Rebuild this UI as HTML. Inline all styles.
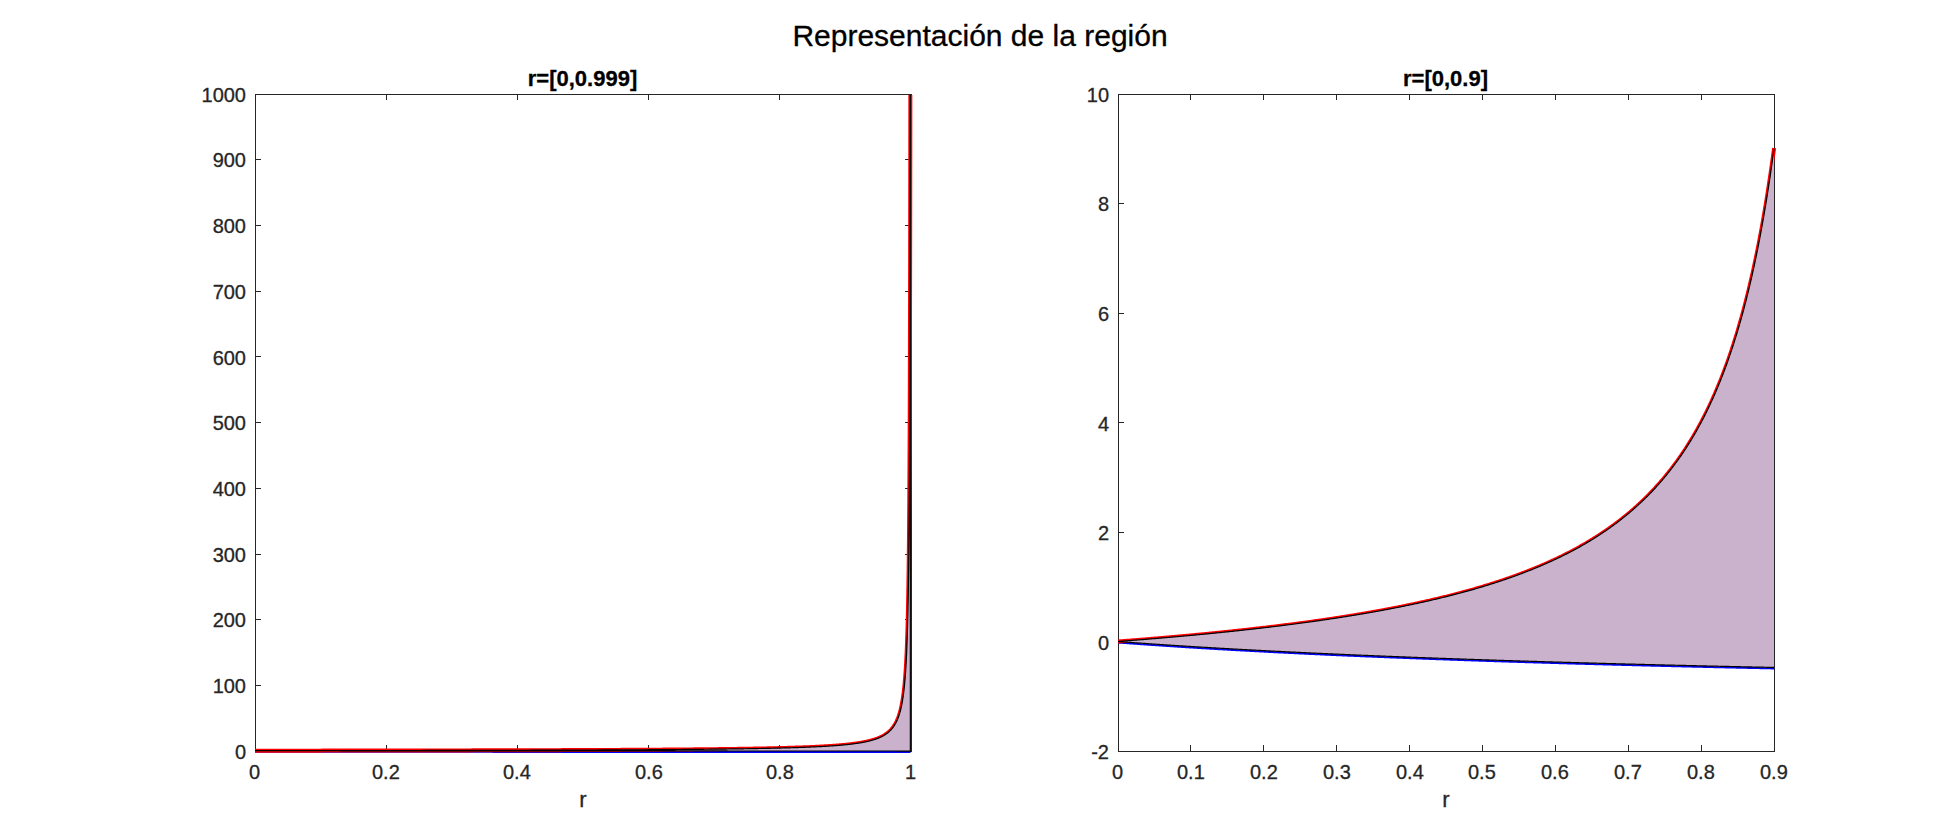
<!DOCTYPE html>
<html lang="es"><head><meta charset="utf-8"><title>Representación de la región</title>
<style>
html,body{margin:0;padding:0;background:#fff;}
body{width:1960px;height:840px;overflow:hidden;}
svg{display:block;font-family:"Liberation Sans", sans-serif;}
</style></head><body>
<svg width="1960" height="840" viewBox="0 0 1960 840">
<rect width="1960" height="840" fill="#fff"/>
<text x="980" y="46" font-size="30" fill="#000" stroke="#000" stroke-width="0.3" text-anchor="middle">Representación de la región</text>
<g stroke="#262626" stroke-width="1" fill="none">
<rect x="255.5" y="94.5" width="656.0" height="657.0"/>
<path d="M386.5 751.5v-6.5M386.5 94.5v5.5M517.5 751.5v-6.5M517.5 94.5v5.5M648.5 751.5v-6.5M648.5 94.5v5.5M779.5 751.5v-6.5M779.5 94.5v5.5M255.5 685.5h5.5M911.5 685.5h-6.5M255.5 619.5h5.5M911.5 619.5h-6.5M255.5 554.5h5.5M911.5 554.5h-6.5M255.5 488.5h5.5M911.5 488.5h-6.5M255.5 422.5h5.5M911.5 422.5h-6.5M255.5 356.5h5.5M911.5 356.5h-6.5M255.5 291.5h5.5M911.5 291.5h-6.5M255.5 225.5h5.5M911.5 225.5h-6.5M255.5 159.5h5.5M911.5 159.5h-6.5"/>
</g>
<clipPath id="clip1"><rect x="255.0" y="95.0" width="696" height="697"/></clipPath>
<g fill="none" stroke-linejoin="round" clip-path="url(#clip1)">
<polyline points="255,751.7 257.81,751.7 260.61,751.71 263.4,751.71 266.19,751.71 268.96,751.71 271.73,751.72 274.49,751.72 277.24,751.72 279.99,751.72 282.72,751.73 285.45,751.73 288.17,751.73 290.89,751.73 293.59,751.74 296.29,751.74 298.98,751.74 301.66,751.74 304.33,751.75 307,751.75 309.66,751.75 312.31,751.75 314.95,751.76 317.58,751.76 320.21,751.76 322.83,751.76 325.44,751.76 328.04,751.77 330.64,751.77 333.23,751.77 335.81,751.77 338.38,751.77 340.95,751.78 343.5,751.78 346.05,751.78 348.59,751.78 351.13,751.78 353.66,751.79 356.17,751.79 358.69,751.79 361.19,751.79 363.69,751.79 366.17,751.8 368.66,751.8 371.13,751.8 373.59,751.8 376.05,751.8 378.5,751.8 380.95,751.81 383.38,751.81 385.81,751.81 388.23,751.81 390.65,751.81 393.05,751.81 395.45,751.82 397.84,751.82 400.23,751.82 402.6,751.82 404.97,751.82 407.33,751.82 409.69,751.83 412.03,751.83 414.37,751.83 416.7,751.83 419.03,751.83 421.35,751.83 423.66,751.83 425.96,751.84 428.26,751.84 430.54,751.84 432.83,751.84 435.1,751.84 437.37,751.84 439.63,751.84 441.88,751.85 444.12,751.85 446.36,751.85 448.59,751.85 450.81,751.85 453.03,751.85 455.24,751.85 457.44,751.85 459.64,751.86 461.83,751.86 464.01,751.86 466.18,751.86 468.35,751.86 470.51,751.86 472.66,751.86 474.8,751.86 476.94,751.87 479.07,751.87 481.2,751.87 483.32,751.87 485.43,751.87 487.53,751.87 489.63,751.87 491.72,751.87 493.8,751.88 495.87,751.88 497.94,751.88 500.01,751.88 502.06,751.88 504.11,751.88 506.15,751.88 508.19,751.88 510.21,751.88 512.23,751.89 514.25,751.89 516.25,751.89 518.26,751.89 520.25,751.89 522.24,751.89 524.22,751.89 526.19,751.89 528.16,751.89 530.12,751.89 532.07,751.9 534.02,751.9 535.96,751.9 537.89,751.9 539.82,751.9 541.74,751.9 543.65,751.9 545.55,751.9 547.45,751.9 549.35,751.9 551.23,751.9 553.12,751.91 554.99,751.91 556.86,751.91 558.72,751.91 560.57,751.91 562.42,751.91 564.26,751.91 566.09,751.91 567.92,751.91 569.74,751.91 571.56,751.91 573.37,751.91 575.17,751.92 576.96,751.92 578.75,751.92 580.53,751.92 582.31,751.92 584.08,751.92 585.84,751.92 587.6,751.92 589.35,751.92 591.1,751.92 592.84,751.92 594.57,751.92 596.29,751.92 598.01,751.93 599.73,751.93 601.43,751.93 603.13,751.93 604.83,751.93 606.51,751.93 608.2,751.93 609.87,751.93 611.54,751.93 613.2,751.93 614.86,751.93 616.51,751.93 618.16,751.93 619.79,751.93 621.43,751.94 623.05,751.94 624.67,751.94 626.29,751.94 627.89,751.94 629.5,751.94 631.09,751.94 632.68,751.94 634.27,751.94 635.84,751.94 637.41,751.94 638.98,751.94 640.54,751.94 642.09,751.94 643.64,751.94 645.18,751.95 646.72,751.95 648.25,751.95 649.77,751.95 651.29,751.95 652.8,751.95 654.31,751.95 655.81,751.95 657.3,751.95 658.79,751.95 660.27,751.95 661.75,751.95 663.22,751.95 664.69,751.95 666.15,751.95 667.6,751.95 669.05,751.95 670.49,751.95 671.93,751.96 673.36,751.96 674.78,751.96 676.2,751.96 677.61,751.96 679.02,751.96 680.42,751.96 681.82,751.96 683.21,751.96 684.59,751.96 685.97,751.96 687.35,751.96 688.72,751.96 690.08,751.96 691.43,751.96 692.79,751.96 694.13,751.96 695.47,751.96 696.81,751.96 698.14,751.96 699.46,751.97 700.78,751.97 702.09,751.97 703.4,751.97 704.7,751.97 705.99,751.97 707.29,751.97 708.57,751.97 709.85,751.97 711.12,751.97 712.39,751.97 713.66,751.97 714.91,751.97 716.17,751.97 717.42,751.97 718.66,751.97 719.89,751.97 721.13,751.97 722.35,751.97 723.57,751.97 724.79,751.97 726,751.97 727.2,751.97 728.4,751.98 729.6,751.98 730.79,751.98 731.97,751.98 733.15,751.98 734.32,751.98 735.49,751.98 736.65,751.98 737.81,751.98 738.96,751.98 740.11,751.98 741.25,751.98 742.39,751.98 743.52,751.98 744.65,751.98 745.77,751.98 746.89,751.98 748,751.98 749.11,751.98 750.21,751.98 751.31,751.98 752.4,751.98 753.49,751.98 754.57,751.98 755.64,751.98 756.72,751.98 757.78,751.99 758.84,751.99 759.9,751.99 760.95,751.99 762,751.99 763.04,751.99 764.08,751.99 765.11,751.99 766.14,751.99 767.16,751.99 768.18,751.99 769.19,751.99 770.2,751.99 771.21,751.99 772.2,751.99 773.2,751.99 774.19,751.99 775.17,751.99 776.15,751.99 777.13,751.99 778.1,751.99 779.06,751.99 780.02,751.99 780.98,751.99 781.93,751.99 782.88,751.99 783.82,751.99 784.75,751.99 785.69,751.99 786.61,751.99 787.54,751.99 788.46,751.99 789.37,751.99 790.28,752 791.19,752 792.09,752 792.98,752 793.87,752 794.76,752 795.64,752 796.52,752 797.39,752 798.26,752 799.13,752 799.99,752 800.84,752 801.69,752 802.54,752 803.38,752 804.22,752 805.05,752 805.88,752 806.71,752 807.53,752 808.34,752 809.16,752 809.96,752 810.77,752 811.56,752 812.36,752 813.15,752 813.93,752 814.72,752 815.49,752 816.27,752 817.04,752 817.8,752 818.56,752 819.32,752 820.07,752 820.82,752 821.56,752 822.3,752 823.04,752 823.77,752.01 824.5,752.01 825.22,752.01 825.94,752.01 826.66,752.01 827.37,752.01 828.07,752.01 828.78,752.01 829.48,752.01 830.17,752.01 830.86,752.01 831.55,752.01 832.23,752.01 832.91,752.01 833.59,752.01 834.26,752.01 834.93,752.01 835.59,752.01 836.25,752.01 836.9,752.01 837.56,752.01 838.2,752.01 838.85,752.01 839.49,752.01 840.13,752.01 840.76,752.01 841.39,752.01 842.01,752.01 842.63,752.01 843.25,752.01 843.86,752.01 844.47,752.01 845.08,752.01 845.68,752.01 846.28,752.01 846.88,752.01 847.47,752.01 848.05,752.01 848.64,752.01 849.22,752.01 849.8,752.01 850.37,752.01 850.94,752.01 851.5,752.01 852.07,752.01 852.62,752.01 853.18,752.01 853.73,752.01 854.28,752.01 854.82,752.01 855.36,752.01 855.9,752.01 856.44,752.01 856.97,752.01 857.49,752.01 858.02,752.01 858.54,752.01 859.05,752.01 859.56,752.02 860.07,752.02 860.58,752.02 861.08,752.02 861.58,752.02 862.08,752.02 862.57,752.02 863.06,752.02 863.55,752.02 864.03,752.02 864.51,752.02 864.98,752.02 865.46,752.02 865.92,752.02 866.39,752.02 866.85,752.02 867.31,752.02 867.77,752.02 868.22,752.02 868.67,752.02 869.12,752.02 869.56,752.02 870,752.02 870.44,752.02 870.87,752.02 871.3,752.02 871.73,752.02 872.15,752.02 872.58,752.02 872.99,752.02 873.41,752.02 873.82,752.02 874.23,752.02 874.63,752.02 875.04,752.02 875.44,752.02 875.83,752.02 876.23,752.02 876.62,752.02 877.01,752.02 877.39,752.02 877.77,752.02 878.15,752.02 878.53,752.02 878.9,752.02 879.27,752.02 879.64,752.02 880,752.02 880.36,752.02 880.72,752.02 881.08,752.02 881.43,752.02 881.78,752.02 882.13,752.02 882.47,752.02 882.81,752.02 883.15,752.02 883.48,752.02 883.82,752.02 884.15,752.02 884.48,752.02 884.8,752.02 885.12,752.02 885.44,752.02 885.76,752.02 886.07,752.02 886.38,752.02 886.69,752.02 887,752.02 887.3,752.02 887.6,752.02 887.9,752.02 888.19,752.02 888.49,752.02 888.78,752.02 889.06,752.02 889.35,752.02 889.63,752.02 889.91,752.02 890.19,752.02 890.46,752.02 890.74,752.02 891.01,752.02 891.27,752.02 891.54,752.02 891.8,752.02 892.06,752.02 892.32,752.02 892.57,752.02 892.83,752.02 893.08,752.02 893.32,752.02 893.57,752.02 893.81,752.02 894.05,752.02 894.29,752.02 894.53,752.02 894.76,752.02 894.99,752.02 895.22,752.02 895.45,752.02 895.67,752.02 895.9,752.02 896.12,752.02 896.33,752.02 896.55,752.02 896.76,752.02 896.97,752.02 897.18,752.03 897.39,752.03 897.59,752.03 897.8,752.03 898,752.03 898.19,752.03 898.39,752.03 898.58,752.03 898.78,752.03 898.97,752.03 899.15,752.03 899.34,752.03 899.52,752.03 899.7,752.03 899.88,752.03 900.06,752.03 900.24,752.03 900.41,752.03 900.58,752.03 900.75,752.03 900.92,752.03 901.08,752.03 901.25,752.03 901.41,752.03 901.57,752.03 901.72,752.03 901.88,752.03 902.03,752.03 902.19,752.03 902.34,752.03 902.48,752.03 902.63,752.03 902.78,752.03 902.92,752.03 903.06,752.03 903.2,752.03 903.34,752.03 903.47,752.03 903.61,752.03 903.74,752.03 903.87,752.03 904,752.03 904.12,752.03 904.25,752.03 904.37,752.03 904.49,752.03 904.61,752.03 904.73,752.03 904.85,752.03 904.96,752.03 905.08,752.03 905.19,752.03 905.3,752.03 905.41,752.03 905.52,752.03 905.62,752.03 905.73,752.03 905.83,752.03 905.93,752.03 906.03,752.03 906.13,752.03 906.22,752.03 906.32,752.03 906.41,752.03 906.51,752.03 906.6,752.03 906.69,752.03 906.77,752.03 906.86,752.03 906.94,752.03 907.03,752.03 907.11,752.03 907.19,752.03 907.27,752.03 907.35,752.03 907.43,752.03 907.5,752.03 907.58,752.03 907.65,752.03 907.72,752.03 907.79,752.03 907.86,752.03 907.93,752.03 907.99,752.03 908.06,752.03 908.12,752.03 908.19,752.03 908.25,752.03 908.31,752.03 908.37,752.03 908.42,752.03 908.48,752.03 908.54,752.03 908.59,752.03 908.65,752.03 908.7,752.03 908.75,752.03 908.8,752.03 908.85,752.03 908.9,752.03 908.94,752.03 908.99,752.03 909.04,752.03 909.08,752.03 909.12,752.03 909.17,752.03 909.21,752.03 909.25,752.03 909.29,752.03 909.32,752.03 909.36,752.03 909.4,752.03 909.43,752.03 909.47,752.03 909.5,752.03 909.53,752.03 909.57,752.03 909.6,752.03 909.63,752.03 909.66,752.03 909.69,752.03 909.71,752.03 909.74,752.03 909.77,752.03 909.79,752.03 909.82,752.03 909.84,752.03 909.86,752.03 909.89,752.03 909.91,752.03 909.93,752.03 909.95,752.03 909.97,752.03 909.99,752.03 910.01,752.03 910.02,752.03 910.04,752.03 910.06,752.03 910.07,752.03 910.09,752.03 910.1,752.03 910.12,752.03 910.13,752.03 910.14,752.03 910.16,752.03 910.17,752.03 910.18,752.03 910.19,752.03 910.2,752.03 910.21,752.03 910.22,752.03 910.23,752.03 910.24,752.03 910.25,752.03 910.25,752.03 910.26,752.03 910.27,752.03 910.27,752.03 910.28,752.03 910.29,752.03 910.29,752.03 910.3,752.03 910.3,752.03 910.31,752.03 910.31,752.03 910.31,752.03 910.32,752.03 910.32,752.03 910.32,752.03 910.33,752.03 910.33,752.03 910.33,752.03 910.33,752.03 910.33,752.03 910.34,752.03 910.34,752.03 910.34,752.03 910.34,752.03 910.34,752.03 910.34,752.03 910.34,752.03 910.34,752.03 910.34,752.03 910.34,752.03 910.34,752.03 910.34,752.03 910.34,752.03 910.34,752.03 910.34,752.03 910.34,752.03 910.34,752.03 910.54,752.03" stroke="#0000ff" stroke-width="2"/>
<polyline points="255,750.7 257.81,750.7 260.61,750.69 263.4,750.69 266.19,750.69 268.96,750.69 271.73,750.68 274.49,750.68 277.24,750.68 279.99,750.67 282.73,750.67 285.45,750.67 288.18,750.67 290.89,750.66 293.59,750.66 296.29,750.66 298.98,750.65 301.66,750.65 304.33,750.65 307,750.64 309.66,750.64 312.31,750.64 314.95,750.63 317.59,750.63 320.21,750.63 322.83,750.62 325.44,750.62 328.05,750.62 330.64,750.61 333.23,750.61 335.81,750.61 338.38,750.6 340.95,750.6 343.5,750.6 346.05,750.59 348.6,750.59 351.13,750.59 353.66,750.58 356.18,750.58 358.69,750.58 361.19,750.57 363.69,750.57 366.17,750.57 368.66,750.56 371.13,750.56 373.6,750.56 376.05,750.55 378.5,750.55 380.95,750.54 383.38,750.54 385.81,750.54 388.23,750.53 390.65,750.53 393.05,750.52 395.45,750.52 397.84,750.52 400.23,750.51 402.6,750.51 404.97,750.51 407.33,750.5 409.69,750.5 412.03,750.49 414.37,750.49 416.71,750.49 419.03,750.48 421.35,750.48 423.66,750.47 425.96,750.47 428.26,750.46 430.54,750.46 432.83,750.46 435.1,750.45 437.37,750.45 439.63,750.44 441.88,750.44 444.12,750.43 446.36,750.43 448.59,750.42 450.82,750.42 453.03,750.42 455.24,750.41 457.44,750.41 459.64,750.4 461.83,750.4 464.01,750.39 466.18,750.39 468.35,750.38 470.51,750.38 472.66,750.37 474.8,750.37 476.94,750.36 479.07,750.36 481.2,750.35 483.32,750.35 485.43,750.34 487.53,750.34 489.63,750.33 491.72,750.33 493.8,750.32 495.88,750.32 497.94,750.31 500.01,750.31 502.06,750.3 504.11,750.3 506.15,750.29 508.19,750.29 510.21,750.28 512.23,750.28 514.25,750.27 516.26,750.27 518.26,750.26 520.25,750.25 522.24,750.25 524.22,750.24 526.19,750.24 528.16,750.23 530.12,750.23 532.07,750.22 534.02,750.21 535.96,750.21 537.89,750.2 539.82,750.2 541.74,750.19 543.65,750.18 545.56,750.18 547.46,750.17 549.35,750.17 551.24,750.16 553.12,750.15 554.99,750.15 556.86,750.14 558.72,750.13 560.57,750.13 562.42,750.12 564.26,750.11 566.09,750.11 567.92,750.1 569.74,750.09 571.56,750.09 573.37,750.08 575.17,750.07 576.96,750.07 578.75,750.06 580.54,750.05 582.31,750.05 584.08,750.04 585.85,750.03 587.6,750.02 589.35,750.02 591.1,750.01 592.84,750 594.57,749.99 596.29,749.99 598.01,749.98 599.73,749.97 601.43,749.96 603.13,749.96 604.83,749.95 606.51,749.94 608.2,749.93 609.87,749.93 611.54,749.92 613.2,749.91 614.86,749.9 616.51,749.89 618.16,749.89 619.79,749.88 621.43,749.87 623.05,749.86 624.67,749.85 626.29,749.84 627.9,749.83 629.5,749.83 631.09,749.82 632.68,749.81 634.27,749.8 635.84,749.79 637.42,749.78 638.98,749.77 640.54,749.76 642.09,749.75 643.64,749.74 645.18,749.74 646.72,749.73 648.25,749.72 649.77,749.71 651.29,749.7 652.8,749.69 654.31,749.68 655.81,749.67 657.3,749.66 658.79,749.65 660.27,749.64 661.75,749.63 663.22,749.62 664.69,749.61 666.15,749.6 667.6,749.59 669.05,749.58 670.49,749.57 671.93,749.55 673.36,749.54 674.78,749.53 676.2,749.52 677.61,749.51 679.02,749.5 680.42,749.49 681.82,749.48 683.21,749.46 684.59,749.45 685.97,749.44 687.35,749.43 688.72,749.42 690.08,749.41 691.44,749.39 692.79,749.38 694.13,749.37 695.47,749.36 696.81,749.34 698.14,749.33 699.46,749.32 700.78,749.31 702.09,749.29 703.4,749.28 704.7,749.27 705.99,749.25 707.29,749.24 708.57,749.23 709.85,749.21 711.12,749.2 712.39,749.19 713.66,749.17 714.92,749.16 716.17,749.14 717.42,749.13 718.66,749.12 719.89,749.1 721.13,749.09 722.35,749.07 723.57,749.06 724.79,749.04 726,749.03 727.2,749.01 728.4,749 729.6,748.98 730.79,748.97 731.97,748.95 733.15,748.93 734.32,748.92 735.49,748.9 736.65,748.88 737.81,748.87 738.96,748.85 740.11,748.83 741.25,748.82 742.39,748.8 743.52,748.78 744.65,748.77 745.77,748.75 746.89,748.73 748,748.71 749.11,748.69 750.21,748.68 751.31,748.66 752.4,748.64 753.49,748.62 754.57,748.6 755.64,748.58 756.72,748.56 757.78,748.54 758.85,748.52 759.9,748.5 760.95,748.48 762,748.46 763.04,748.44 764.08,748.42 765.11,748.4 766.14,748.38 767.16,748.36 768.18,748.34 769.19,748.32 770.2,748.3 771.21,748.27 772.2,748.25 773.2,748.23 774.19,748.21 775.17,748.18 776.15,748.16 777.13,748.14 778.1,748.11 779.06,748.09 780.02,748.07 780.98,748.04 781.93,748.02 782.88,747.99 783.82,747.97 784.75,747.94 785.69,747.92 786.62,747.89 787.54,747.87 788.46,747.84 789.37,747.81 790.28,747.79 791.19,747.76 792.09,747.73 792.98,747.71 793.87,747.68 794.76,747.65 795.64,747.62 796.52,747.59 797.39,747.56 798.26,747.53 799.13,747.5 799.99,747.47 800.84,747.44 801.69,747.41 802.54,747.38 803.38,747.35 804.22,747.32 805.05,747.29 805.88,747.26 806.71,747.22 807.53,747.19 808.34,747.16 809.16,747.13 809.96,747.09 810.77,747.06 811.56,747.02 812.36,746.99 813.15,746.95 813.94,746.92 814.72,746.88 815.49,746.84 816.27,746.81 817.04,746.77 817.8,746.73 818.56,746.69 819.32,746.66 820.07,746.62 820.82,746.58 821.56,746.54 822.3,746.5 823.04,746.46 823.77,746.42 824.5,746.37 825.22,746.33 825.94,746.29 826.66,746.25 827.37,746.2 828.07,746.16 828.78,746.12 829.48,746.07 830.17,746.02 830.86,745.98 831.55,745.93 832.23,745.89 832.91,745.84 833.59,745.79 834.26,745.74 834.93,745.69 835.59,745.64 836.25,745.59 836.9,745.54 837.56,745.49 838.2,745.44 838.85,745.38 839.49,745.33 840.13,745.28 840.76,745.22 841.39,745.17 842.01,745.11 842.63,745.05 843.25,745 843.86,744.94 844.47,744.88 845.08,744.82 845.68,744.76 846.28,744.7 846.88,744.64 847.47,744.57 848.06,744.51 848.64,744.45 849.22,744.38 849.8,744.32 850.37,744.25 850.94,744.18 851.5,744.11 852.07,744.04 852.62,743.97 853.18,743.9 853.73,743.83 854.28,743.76 854.82,743.68 855.36,743.61 855.9,743.53 856.44,743.46 856.97,743.38 857.49,743.3 858.02,743.22 858.54,743.14 859.05,743.06 859.56,742.98 860.07,742.89 860.58,742.81 861.08,742.72 861.58,742.64 862.08,742.55 862.57,742.46 863.06,742.37 863.55,742.27 864.03,742.18 864.51,742.09 864.98,741.99 865.46,741.89 865.92,741.8 866.39,741.7 866.85,741.59 867.31,741.49 867.77,741.39 868.22,741.28 868.67,741.17 869.12,741.07 869.56,740.96 870,740.84 870.44,740.73 870.87,740.62 871.3,740.5 871.73,740.38 872.15,740.26 872.58,740.14 872.99,740.02 873.41,739.89 873.82,739.76 874.23,739.64 874.64,739.51 875.04,739.37 875.44,739.24 875.83,739.1 876.23,738.96 876.62,738.82 877.01,738.68 877.39,738.53 877.77,738.39 878.15,738.24 878.53,738.08 878.9,737.93 879.27,737.77 879.64,737.62 880,737.45 880.36,737.29 880.72,737.12 881.08,736.95 881.43,736.78 881.78,736.61 882.13,736.43 882.47,736.25 882.81,736.07 883.15,735.88 883.49,735.69 883.82,735.5 884.15,735.31 884.48,735.11 884.8,734.91 885.12,734.7 885.44,734.49 885.76,734.28 886.07,734.07 886.38,733.85 886.69,733.63 887,733.4 887.3,733.17 887.6,732.94 887.9,732.7 888.19,732.46 888.49,732.21 888.78,731.96 889.06,731.71 889.35,731.45 889.63,731.19 889.91,730.92 890.19,730.65 890.46,730.37 890.74,730.09 891.01,729.8 891.27,729.51 891.54,729.21 891.8,728.91 892.06,728.6 892.32,728.29 892.57,727.97 892.83,727.64 893.08,727.31 893.32,726.97 893.57,726.63 893.81,726.28 894.05,725.92 894.29,725.56 894.53,725.19 894.76,724.81 894.99,724.43 895.22,724.04 895.45,723.64 895.67,723.24 895.9,722.82 896.12,722.4 896.33,721.97 896.55,721.53 896.76,721.08 896.97,720.63 897.18,720.16 897.39,719.69 897.59,719.21 897.8,718.72 898,718.21 898.19,717.7 898.39,717.18 898.58,716.64 898.78,716.1 898.97,715.54 899.15,714.98 899.34,714.4 899.52,713.81 899.7,713.2 899.88,712.59 900.06,711.96 900.24,711.32 900.41,710.66 900.58,709.99 900.75,709.31 900.92,708.61 901.08,707.9 901.25,707.17 901.41,706.43 901.57,705.67 901.72,704.89 901.88,704.1 902.03,703.29 902.19,702.46 902.34,701.61 902.48,700.74 902.63,699.86 902.78,698.95 902.92,698.03 903.06,697.08 903.2,696.11 903.34,695.12 903.47,694.11 903.61,693.07 903.74,692.01 903.87,690.93 904,689.82 904.12,688.68 904.25,687.52 904.37,686.33 904.49,685.11 904.61,683.86 904.73,682.59 904.85,681.28 904.97,679.94 905.08,678.57 905.19,677.17 905.3,675.73 905.41,674.26 905.52,672.75 905.62,671.2 905.73,669.62 905.83,668 905.93,666.34 906.03,664.63 906.13,662.89 906.22,661.1 906.32,659.27 906.41,657.39 906.51,655.46 906.6,653.49 906.69,651.46 906.77,649.39 906.86,647.26 906.94,645.08 907.03,642.84 907.11,640.55 907.19,638.2 907.27,635.79 907.35,633.31 907.43,630.78 907.5,628.18 907.58,625.51 907.65,622.77 907.72,619.97 907.79,617.09 907.86,614.14 907.93,611.11 907.99,608.01 908.06,604.83 908.12,601.57 908.19,598.22 908.25,594.79 908.31,591.27 908.37,587.67 908.43,583.97 908.48,580.18 908.54,576.3 908.59,572.32 908.65,568.24 908.7,564.06 908.75,559.78 908.8,555.4 908.85,550.91 908.9,546.32 908.95,541.61 908.99,536.8 909.04,531.87 909.08,526.83 909.12,521.68 909.17,516.41 909.21,511.02 909.25,505.52 909.29,499.9 909.32,494.16 909.36,488.31 909.4,482.33 909.43,476.24 909.47,470.03 909.5,463.71 909.53,457.27 909.57,450.71 909.6,444.05 909.63,437.27 909.66,430.39 909.69,423.4 909.71,416.31 909.74,409.12 909.77,401.84 909.79,394.47 909.82,387.02 909.84,379.5 909.86,371.9 909.89,364.23 909.91,356.51 909.93,348.74 909.95,340.92 909.97,333.08 909.99,325.2 910.01,317.32 910.02,309.43 910.04,301.54 910.06,293.67 910.07,285.82 910.09,278.02 910.1,270.26 910.12,262.56 910.13,254.94 910.14,247.4 910.16,239.96 910.17,232.62 910.18,225.41 910.19,218.32 910.2,211.38 910.21,204.58 910.22,197.96 910.23,191.5 910.24,185.22 910.25,179.14 910.25,173.25 910.26,167.57 910.27,162.1 910.28,156.85 910.28,151.82 910.29,147.02 910.29,142.45 910.3,138.11 910.3,134 910.31,130.12 910.31,126.48 910.31,123.07 910.32,119.89 910.32,116.94 910.32,114.2 910.33,111.69 910.33,109.38 910.33,107.28 910.33,105.38 910.33,103.66 910.34,102.14 910.34,100.78 910.34,99.59 910.34,98.55 910.34,97.66 910.34,96.9 910.34,96.27 910.34,95.75 910.34,95.34 910.34,95.02 910.34,94.77 910.34,94.6 910.34,94.48 910.34,94.41 910.34,94.37 910.34,94.36 910.34,94.36 910.34,93.66" stroke="#ff0000" stroke-width="4"/>
<polygon points="255,750.7 257.81,750.7 260.61,750.69 263.4,750.69 266.19,750.69 268.96,750.69 271.73,750.68 274.49,750.68 277.24,750.68 279.99,750.67 282.73,750.67 285.45,750.67 288.18,750.67 290.89,750.66 293.59,750.66 296.29,750.66 298.98,750.65 301.66,750.65 304.33,750.65 307,750.64 309.66,750.64 312.31,750.64 314.95,750.63 317.59,750.63 320.21,750.63 322.83,750.62 325.44,750.62 328.05,750.62 330.64,750.61 333.23,750.61 335.81,750.61 338.38,750.6 340.95,750.6 343.5,750.6 346.05,750.59 348.6,750.59 351.13,750.59 353.66,750.58 356.18,750.58 358.69,750.58 361.19,750.57 363.69,750.57 366.17,750.57 368.66,750.56 371.13,750.56 373.6,750.56 376.05,750.55 378.5,750.55 380.95,750.54 383.38,750.54 385.81,750.54 388.23,750.53 390.65,750.53 393.05,750.52 395.45,750.52 397.84,750.52 400.23,750.51 402.6,750.51 404.97,750.51 407.33,750.5 409.69,750.5 412.03,750.49 414.37,750.49 416.71,750.49 419.03,750.48 421.35,750.48 423.66,750.47 425.96,750.47 428.26,750.46 430.54,750.46 432.83,750.46 435.1,750.45 437.37,750.45 439.63,750.44 441.88,750.44 444.12,750.43 446.36,750.43 448.59,750.42 450.82,750.42 453.03,750.42 455.24,750.41 457.44,750.41 459.64,750.4 461.83,750.4 464.01,750.39 466.18,750.39 468.35,750.38 470.51,750.38 472.66,750.37 474.8,750.37 476.94,750.36 479.07,750.36 481.2,750.35 483.32,750.35 485.43,750.34 487.53,750.34 489.63,750.33 491.72,750.33 493.8,750.32 495.88,750.32 497.94,750.31 500.01,750.31 502.06,750.3 504.11,750.3 506.15,750.29 508.19,750.29 510.21,750.28 512.23,750.28 514.25,750.27 516.26,750.27 518.26,750.26 520.25,750.25 522.24,750.25 524.22,750.24 526.19,750.24 528.16,750.23 530.12,750.23 532.07,750.22 534.02,750.21 535.96,750.21 537.89,750.2 539.82,750.2 541.74,750.19 543.65,750.18 545.56,750.18 547.46,750.17 549.35,750.17 551.24,750.16 553.12,750.15 554.99,750.15 556.86,750.14 558.72,750.13 560.57,750.13 562.42,750.12 564.26,750.11 566.09,750.11 567.92,750.1 569.74,750.09 571.56,750.09 573.37,750.08 575.17,750.07 576.96,750.07 578.75,750.06 580.54,750.05 582.31,750.05 584.08,750.04 585.85,750.03 587.6,750.02 589.35,750.02 591.1,750.01 592.84,750 594.57,749.99 596.29,749.99 598.01,749.98 599.73,749.97 601.43,749.96 603.13,749.96 604.83,749.95 606.51,749.94 608.2,749.93 609.87,749.93 611.54,749.92 613.2,749.91 614.86,749.9 616.51,749.89 618.16,749.89 619.79,749.88 621.43,749.87 623.05,749.86 624.67,749.85 626.29,749.84 627.9,749.83 629.5,749.83 631.09,749.82 632.68,749.81 634.27,749.8 635.84,749.79 637.42,749.78 638.98,749.77 640.54,749.76 642.09,749.75 643.64,749.74 645.18,749.74 646.72,749.73 648.25,749.72 649.77,749.71 651.29,749.7 652.8,749.69 654.31,749.68 655.81,749.67 657.3,749.66 658.79,749.65 660.27,749.64 661.75,749.63 663.22,749.62 664.69,749.61 666.15,749.6 667.6,749.59 669.05,749.58 670.49,749.57 671.93,749.55 673.36,749.54 674.78,749.53 676.2,749.52 677.61,749.51 679.02,749.5 680.42,749.49 681.82,749.48 683.21,749.46 684.59,749.45 685.97,749.44 687.35,749.43 688.72,749.42 690.08,749.41 691.44,749.39 692.79,749.38 694.13,749.37 695.47,749.36 696.81,749.34 698.14,749.33 699.46,749.32 700.78,749.31 702.09,749.29 703.4,749.28 704.7,749.27 705.99,749.25 707.29,749.24 708.57,749.23 709.85,749.21 711.12,749.2 712.39,749.19 713.66,749.17 714.92,749.16 716.17,749.14 717.42,749.13 718.66,749.12 719.89,749.1 721.13,749.09 722.35,749.07 723.57,749.06 724.79,749.04 726,749.03 727.2,749.01 728.4,749 729.6,748.98 730.79,748.97 731.97,748.95 733.15,748.93 734.32,748.92 735.49,748.9 736.65,748.88 737.81,748.87 738.96,748.85 740.11,748.83 741.25,748.82 742.39,748.8 743.52,748.78 744.65,748.77 745.77,748.75 746.89,748.73 748,748.71 749.11,748.69 750.21,748.68 751.31,748.66 752.4,748.64 753.49,748.62 754.57,748.6 755.64,748.58 756.72,748.56 757.78,748.54 758.85,748.52 759.9,748.5 760.95,748.48 762,748.46 763.04,748.44 764.08,748.42 765.11,748.4 766.14,748.38 767.16,748.36 768.18,748.34 769.19,748.32 770.2,748.3 771.21,748.27 772.2,748.25 773.2,748.23 774.19,748.21 775.17,748.18 776.15,748.16 777.13,748.14 778.1,748.11 779.06,748.09 780.02,748.07 780.98,748.04 781.93,748.02 782.88,747.99 783.82,747.97 784.75,747.94 785.69,747.92 786.62,747.89 787.54,747.87 788.46,747.84 789.37,747.81 790.28,747.79 791.19,747.76 792.09,747.73 792.98,747.71 793.87,747.68 794.76,747.65 795.64,747.62 796.52,747.59 797.39,747.56 798.26,747.53 799.13,747.5 799.99,747.47 800.84,747.44 801.69,747.41 802.54,747.38 803.38,747.35 804.22,747.32 805.05,747.29 805.88,747.26 806.71,747.22 807.53,747.19 808.34,747.16 809.16,747.13 809.96,747.09 810.77,747.06 811.56,747.02 812.36,746.99 813.15,746.95 813.94,746.92 814.72,746.88 815.49,746.84 816.27,746.81 817.04,746.77 817.8,746.73 818.56,746.69 819.32,746.66 820.07,746.62 820.82,746.58 821.56,746.54 822.3,746.5 823.04,746.46 823.77,746.42 824.5,746.37 825.22,746.33 825.94,746.29 826.66,746.25 827.37,746.2 828.07,746.16 828.78,746.12 829.48,746.07 830.17,746.02 830.86,745.98 831.55,745.93 832.23,745.89 832.91,745.84 833.59,745.79 834.26,745.74 834.93,745.69 835.59,745.64 836.25,745.59 836.9,745.54 837.56,745.49 838.2,745.44 838.85,745.38 839.49,745.33 840.13,745.28 840.76,745.22 841.39,745.17 842.01,745.11 842.63,745.05 843.25,745 843.86,744.94 844.47,744.88 845.08,744.82 845.68,744.76 846.28,744.7 846.88,744.64 847.47,744.57 848.06,744.51 848.64,744.45 849.22,744.38 849.8,744.32 850.37,744.25 850.94,744.18 851.5,744.11 852.07,744.04 852.62,743.97 853.18,743.9 853.73,743.83 854.28,743.76 854.82,743.68 855.36,743.61 855.9,743.53 856.44,743.46 856.97,743.38 857.49,743.3 858.02,743.22 858.54,743.14 859.05,743.06 859.56,742.98 860.07,742.89 860.58,742.81 861.08,742.72 861.58,742.64 862.08,742.55 862.57,742.46 863.06,742.37 863.55,742.27 864.03,742.18 864.51,742.09 864.98,741.99 865.46,741.89 865.92,741.8 866.39,741.7 866.85,741.59 867.31,741.49 867.77,741.39 868.22,741.28 868.67,741.17 869.12,741.07 869.56,740.96 870,740.84 870.44,740.73 870.87,740.62 871.3,740.5 871.73,740.38 872.15,740.26 872.58,740.14 872.99,740.02 873.41,739.89 873.82,739.76 874.23,739.64 874.64,739.51 875.04,739.37 875.44,739.24 875.83,739.1 876.23,738.96 876.62,738.82 877.01,738.68 877.39,738.53 877.77,738.39 878.15,738.24 878.53,738.08 878.9,737.93 879.27,737.77 879.64,737.62 880,737.45 880.36,737.29 880.72,737.12 881.08,736.95 881.43,736.78 881.78,736.61 882.13,736.43 882.47,736.25 882.81,736.07 883.15,735.88 883.49,735.69 883.82,735.5 884.15,735.31 884.48,735.11 884.8,734.91 885.12,734.7 885.44,734.49 885.76,734.28 886.07,734.07 886.38,733.85 886.69,733.63 887,733.4 887.3,733.17 887.6,732.94 887.9,732.7 888.19,732.46 888.49,732.21 888.78,731.96 889.06,731.71 889.35,731.45 889.63,731.19 889.91,730.92 890.19,730.65 890.46,730.37 890.74,730.09 891.01,729.8 891.27,729.51 891.54,729.21 891.8,728.91 892.06,728.6 892.32,728.29 892.57,727.97 892.83,727.64 893.08,727.31 893.32,726.97 893.57,726.63 893.81,726.28 894.05,725.92 894.29,725.56 894.53,725.19 894.76,724.81 894.99,724.43 895.22,724.04 895.45,723.64 895.67,723.24 895.9,722.82 896.12,722.4 896.33,721.97 896.55,721.53 896.76,721.08 896.97,720.63 897.18,720.16 897.39,719.69 897.59,719.21 897.8,718.72 898,718.21 898.19,717.7 898.39,717.18 898.58,716.64 898.78,716.1 898.97,715.54 899.15,714.98 899.34,714.4 899.52,713.81 899.7,713.2 899.88,712.59 900.06,711.96 900.24,711.32 900.41,710.66 900.58,709.99 900.75,709.31 900.92,708.61 901.08,707.9 901.25,707.17 901.41,706.43 901.57,705.67 901.72,704.89 901.88,704.1 902.03,703.29 902.19,702.46 902.34,701.61 902.48,700.74 902.63,699.86 902.78,698.95 902.92,698.03 903.06,697.08 903.2,696.11 903.34,695.12 903.47,694.11 903.61,693.07 903.74,692.01 903.87,690.93 904,689.82 904.12,688.68 904.25,687.52 904.37,686.33 904.49,685.11 904.61,683.86 904.73,682.59 904.85,681.28 904.97,679.94 905.08,678.57 905.19,677.17 905.3,675.73 905.41,674.26 905.52,672.75 905.62,671.2 905.73,669.62 905.83,668 905.93,666.34 906.03,664.63 906.13,662.89 906.22,661.1 906.32,659.27 906.41,657.39 906.51,655.46 906.6,653.49 906.69,651.46 906.77,649.39 906.86,647.26 906.94,645.08 907.03,642.84 907.11,640.55 907.19,638.2 907.27,635.79 907.35,633.31 907.43,630.78 907.5,628.18 907.58,625.51 907.65,622.77 907.72,619.97 907.79,617.09 907.86,614.14 907.93,611.11 907.99,608.01 908.06,604.83 908.12,601.57 908.19,598.22 908.25,594.79 908.31,591.27 908.37,587.67 908.43,583.97 908.48,580.18 908.54,576.3 908.59,572.32 908.65,568.24 908.7,564.06 908.75,559.78 908.8,555.4 908.85,550.91 908.9,546.32 908.95,541.61 908.99,536.8 909.04,531.87 909.08,526.83 909.12,521.68 909.17,516.41 909.21,511.02 909.25,505.52 909.29,499.9 909.32,494.16 909.36,488.31 909.4,482.33 909.43,476.24 909.47,470.03 909.5,463.71 909.53,457.27 909.57,450.71 909.6,444.05 909.63,437.27 909.66,430.39 909.69,423.4 909.71,416.31 909.74,409.12 909.77,401.84 909.79,394.47 909.82,387.02 909.84,379.5 909.86,371.9 909.89,364.23 909.91,356.51 909.93,348.74 909.95,340.92 909.97,333.08 909.99,325.2 910.01,317.32 910.02,309.43 910.04,301.54 910.06,293.67 910.07,285.82 910.09,278.02 910.1,270.26 910.12,262.56 910.13,254.94 910.14,247.4 910.16,239.96 910.17,232.62 910.18,225.41 910.19,218.32 910.2,211.38 910.21,204.58 910.22,197.96 910.23,191.5 910.24,185.22 910.25,179.14 910.25,173.25 910.26,167.57 910.27,162.1 910.28,156.85 910.28,151.82 910.29,147.02 910.29,142.45 910.3,138.11 910.3,134 910.31,130.12 910.31,126.48 910.31,123.07 910.32,119.89 910.32,116.94 910.32,114.2 910.33,111.69 910.33,109.38 910.33,107.28 910.33,105.38 910.33,103.66 910.34,102.14 910.34,100.78 910.34,99.59 910.34,98.55 910.34,97.66 910.34,96.9 910.34,96.27 910.34,95.75 910.34,95.34 910.34,95.02 910.34,94.77 910.34,94.6 910.34,94.48 910.34,94.41 910.34,94.37 910.34,94.36 910.34,94.36 910.34,751.03 910.34,751.03 910.34,751.03 910.34,751.03 910.34,751.03 910.34,751.03 910.34,751.03 910.34,751.03 910.34,751.03 910.34,751.03 910.34,751.03 910.34,751.03 910.34,751.03 910.34,751.03 910.34,751.03 910.34,751.03 910.34,751.03 910.33,751.03 910.33,751.03 910.33,751.03 910.33,751.03 910.33,751.03 910.32,751.03 910.32,751.03 910.32,751.03 910.31,751.03 910.31,751.03 910.31,751.03 910.3,751.03 910.3,751.03 910.29,751.03 910.29,751.03 910.28,751.03 910.28,751.03 910.27,751.03 910.26,751.03 910.25,751.03 910.25,751.03 910.24,751.03 910.23,751.03 910.22,751.03 910.21,751.03 910.2,751.03 910.19,751.03 910.18,751.03 910.17,751.03 910.16,751.03 910.14,751.03 910.13,751.03 910.12,751.03 910.1,751.03 910.09,751.03 910.07,751.03 910.06,751.03 910.04,751.03 910.02,751.03 910.01,751.03 909.99,751.03 909.97,751.03 909.95,751.03 909.93,751.03 909.91,751.03 909.89,751.03 909.86,751.03 909.84,751.03 909.82,751.03 909.79,751.03 909.77,751.03 909.74,751.03 909.71,751.03 909.69,751.03 909.66,751.03 909.63,751.03 909.6,751.03 909.57,751.03 909.53,751.03 909.5,751.03 909.47,751.03 909.43,751.03 909.4,751.03 909.36,751.03 909.32,751.03 909.29,751.03 909.25,751.03 909.21,751.03 909.17,751.03 909.12,751.03 909.08,751.03 909.04,751.03 908.99,751.03 908.95,751.03 908.9,751.03 908.85,751.03 908.8,751.03 908.75,751.03 908.7,751.03 908.65,751.03 908.59,751.03 908.54,751.03 908.48,751.03 908.43,751.03 908.37,751.03 908.31,751.03 908.25,751.03 908.19,751.03 908.12,751.03 908.06,751.03 907.99,751.03 907.93,751.03 907.86,751.03 907.79,751.03 907.72,751.03 907.65,751.03 907.58,751.03 907.5,751.03 907.43,751.03 907.35,751.03 907.27,751.03 907.19,751.03 907.11,751.03 907.03,751.03 906.94,751.03 906.86,751.03 906.77,751.03 906.69,751.03 906.6,751.03 906.51,751.03 906.41,751.03 906.32,751.03 906.22,751.03 906.13,751.03 906.03,751.03 905.93,751.03 905.83,751.03 905.73,751.03 905.62,751.03 905.52,751.03 905.41,751.03 905.3,751.03 905.19,751.03 905.08,751.03 904.97,751.03 904.85,751.03 904.73,751.03 904.61,751.03 904.49,751.03 904.37,751.03 904.25,751.03 904.12,751.03 904,751.03 903.87,751.03 903.74,751.03 903.61,751.03 903.47,751.03 903.34,751.03 903.2,751.03 903.06,751.03 902.92,751.03 902.78,751.03 902.63,751.03 902.48,751.03 902.34,751.03 902.19,751.03 902.03,751.03 901.88,751.03 901.72,751.03 901.57,751.03 901.41,751.03 901.25,751.03 901.08,751.03 900.92,751.03 900.75,751.03 900.58,751.03 900.41,751.03 900.24,751.03 900.06,751.03 899.88,751.03 899.7,751.03 899.52,751.03 899.34,751.03 899.15,751.03 898.97,751.03 898.78,751.03 898.58,751.03 898.39,751.03 898.19,751.03 898,751.03 897.8,751.03 897.59,751.03 897.39,751.03 897.18,751.03 896.97,751.02 896.76,751.02 896.55,751.02 896.33,751.02 896.12,751.02 895.9,751.02 895.67,751.02 895.45,751.02 895.22,751.02 894.99,751.02 894.76,751.02 894.53,751.02 894.29,751.02 894.05,751.02 893.81,751.02 893.57,751.02 893.32,751.02 893.08,751.02 892.83,751.02 892.57,751.02 892.32,751.02 892.06,751.02 891.8,751.02 891.54,751.02 891.27,751.02 891.01,751.02 890.74,751.02 890.46,751.02 890.19,751.02 889.91,751.02 889.63,751.02 889.35,751.02 889.06,751.02 888.78,751.02 888.49,751.02 888.19,751.02 887.9,751.02 887.6,751.02 887.3,751.02 887,751.02 886.69,751.02 886.38,751.02 886.07,751.02 885.76,751.02 885.44,751.02 885.12,751.02 884.8,751.02 884.48,751.02 884.15,751.02 883.82,751.02 883.49,751.02 883.15,751.02 882.81,751.02 882.47,751.02 882.13,751.02 881.78,751.02 881.43,751.02 881.08,751.02 880.72,751.02 880.36,751.02 880,751.02 879.64,751.02 879.27,751.02 878.9,751.02 878.53,751.02 878.15,751.02 877.77,751.02 877.39,751.02 877.01,751.02 876.62,751.02 876.23,751.02 875.83,751.02 875.44,751.02 875.04,751.02 874.64,751.02 874.23,751.02 873.82,751.02 873.41,751.02 872.99,751.02 872.58,751.02 872.15,751.02 871.73,751.02 871.3,751.02 870.87,751.02 870.44,751.02 870,751.02 869.56,751.02 869.12,751.02 868.67,751.02 868.22,751.02 867.77,751.02 867.31,751.02 866.85,751.02 866.39,751.02 865.92,751.02 865.46,751.02 864.98,751.02 864.51,751.02 864.03,751.02 863.55,751.02 863.06,751.02 862.57,751.02 862.08,751.02 861.58,751.02 861.08,751.02 860.58,751.02 860.07,751.02 859.56,751.02 859.05,751.01 858.54,751.01 858.02,751.01 857.49,751.01 856.97,751.01 856.44,751.01 855.9,751.01 855.36,751.01 854.82,751.01 854.28,751.01 853.73,751.01 853.18,751.01 852.62,751.01 852.07,751.01 851.5,751.01 850.94,751.01 850.37,751.01 849.8,751.01 849.22,751.01 848.64,751.01 848.06,751.01 847.47,751.01 846.88,751.01 846.28,751.01 845.68,751.01 845.08,751.01 844.47,751.01 843.86,751.01 843.25,751.01 842.63,751.01 842.01,751.01 841.39,751.01 840.76,751.01 840.13,751.01 839.49,751.01 838.85,751.01 838.2,751.01 837.56,751.01 836.9,751.01 836.25,751.01 835.59,751.01 834.93,751.01 834.26,751.01 833.59,751.01 832.91,751.01 832.23,751.01 831.55,751.01 830.86,751.01 830.17,751.01 829.48,751.01 828.78,751.01 828.07,751.01 827.37,751.01 826.66,751.01 825.94,751.01 825.22,751.01 824.5,751.01 823.77,751.01 823.04,751 822.3,751 821.56,751 820.82,751 820.07,751 819.32,751 818.56,751 817.8,751 817.04,751 816.27,751 815.49,751 814.72,751 813.94,751 813.15,751 812.36,751 811.56,751 810.77,751 809.96,751 809.16,751 808.34,751 807.53,751 806.71,751 805.88,751 805.05,751 804.22,751 803.38,751 802.54,751 801.69,751 800.84,751 799.99,751 799.13,751 798.26,751 797.39,751 796.52,751 795.64,751 794.76,751 793.87,751 792.98,751 792.09,751 791.19,751 790.28,751 789.37,750.99 788.46,750.99 787.54,750.99 786.62,750.99 785.69,750.99 784.75,750.99 783.82,750.99 782.88,750.99 781.93,750.99 780.98,750.99 780.02,750.99 779.06,750.99 778.1,750.99 777.13,750.99 776.15,750.99 775.17,750.99 774.19,750.99 773.2,750.99 772.2,750.99 771.21,750.99 770.2,750.99 769.19,750.99 768.18,750.99 767.16,750.99 766.14,750.99 765.11,750.99 764.08,750.99 763.04,750.99 762,750.99 760.95,750.99 759.9,750.99 758.85,750.99 757.78,750.99 756.72,750.98 755.64,750.98 754.57,750.98 753.49,750.98 752.4,750.98 751.31,750.98 750.21,750.98 749.11,750.98 748,750.98 746.89,750.98 745.77,750.98 744.65,750.98 743.52,750.98 742.39,750.98 741.25,750.98 740.11,750.98 738.96,750.98 737.81,750.98 736.65,750.98 735.49,750.98 734.32,750.98 733.15,750.98 731.97,750.98 730.79,750.98 729.6,750.98 728.4,750.98 727.2,750.97 726,750.97 724.79,750.97 723.57,750.97 722.35,750.97 721.13,750.97 719.89,750.97 718.66,750.97 717.42,750.97 716.17,750.97 714.92,750.97 713.66,750.97 712.39,750.97 711.12,750.97 709.85,750.97 708.57,750.97 707.29,750.97 705.99,750.97 704.7,750.97 703.4,750.97 702.09,750.97 700.78,750.97 699.46,750.97 698.14,750.96 696.81,750.96 695.47,750.96 694.13,750.96 692.79,750.96 691.44,750.96 690.08,750.96 688.72,750.96 687.35,750.96 685.97,750.96 684.59,750.96 683.21,750.96 681.82,750.96 680.42,750.96 679.02,750.96 677.61,750.96 676.2,750.96 674.78,750.96 673.36,750.96 671.93,750.96 670.49,750.95 669.05,750.95 667.6,750.95 666.15,750.95 664.69,750.95 663.22,750.95 661.75,750.95 660.27,750.95 658.79,750.95 657.3,750.95 655.81,750.95 654.31,750.95 652.8,750.95 651.29,750.95 649.77,750.95 648.25,750.95 646.72,750.95 645.18,750.95 643.64,750.94 642.09,750.94 640.54,750.94 638.98,750.94 637.42,750.94 635.84,750.94 634.27,750.94 632.68,750.94 631.09,750.94 629.5,750.94 627.9,750.94 626.29,750.94 624.67,750.94 623.05,750.94 621.43,750.94 619.79,750.93 618.16,750.93 616.51,750.93 614.86,750.93 613.2,750.93 611.54,750.93 609.87,750.93 608.2,750.93 606.51,750.93 604.83,750.93 603.13,750.93 601.43,750.93 599.73,750.93 598.01,750.93 596.29,750.92 594.57,750.92 592.84,750.92 591.1,750.92 589.35,750.92 587.6,750.92 585.85,750.92 584.08,750.92 582.31,750.92 580.54,750.92 578.75,750.92 576.96,750.92 575.17,750.92 573.37,750.91 571.56,750.91 569.74,750.91 567.92,750.91 566.09,750.91 564.26,750.91 562.42,750.91 560.57,750.91 558.72,750.91 556.86,750.91 554.99,750.91 553.12,750.91 551.24,750.9 549.35,750.9 547.46,750.9 545.56,750.9 543.65,750.9 541.74,750.9 539.82,750.9 537.89,750.9 535.96,750.9 534.02,750.9 532.07,750.9 530.12,750.89 528.16,750.89 526.19,750.89 524.22,750.89 522.24,750.89 520.25,750.89 518.26,750.89 516.26,750.89 514.25,750.89 512.23,750.89 510.21,750.88 508.19,750.88 506.15,750.88 504.11,750.88 502.06,750.88 500.01,750.88 497.94,750.88 495.88,750.88 493.8,750.88 491.72,750.87 489.63,750.87 487.53,750.87 485.43,750.87 483.32,750.87 481.2,750.87 479.07,750.87 476.94,750.87 474.8,750.86 472.66,750.86 470.51,750.86 468.35,750.86 466.18,750.86 464.01,750.86 461.83,750.86 459.64,750.86 457.44,750.85 455.24,750.85 453.03,750.85 450.82,750.85 448.59,750.85 446.36,750.85 444.12,750.85 441.88,750.85 439.63,750.84 437.37,750.84 435.1,750.84 432.83,750.84 430.54,750.84 428.26,750.84 425.96,750.84 423.66,750.83 421.35,750.83 419.03,750.83 416.71,750.83 414.37,750.83 412.03,750.83 409.69,750.83 407.33,750.82 404.97,750.82 402.6,750.82 400.23,750.82 397.84,750.82 395.45,750.82 393.05,750.81 390.65,750.81 388.23,750.81 385.81,750.81 383.38,750.81 380.95,750.81 378.5,750.8 376.05,750.8 373.6,750.8 371.13,750.8 368.66,750.8 366.17,750.8 363.69,750.79 361.19,750.79 358.69,750.79 356.18,750.79 353.66,750.79 351.13,750.78 348.6,750.78 346.05,750.78 343.5,750.78 340.95,750.78 338.38,750.77 335.81,750.77 333.23,750.77 330.64,750.77 328.05,750.77 325.44,750.76 322.83,750.76 320.21,750.76 317.59,750.76 314.95,750.76 312.31,750.75 309.66,750.75 307,750.75 304.33,750.75 301.66,750.74 298.98,750.74 296.29,750.74 293.59,750.74 290.89,750.73 288.18,750.73 285.45,750.73 282.73,750.73 279.99,750.72 277.24,750.72 274.49,750.72 271.73,750.72 268.96,750.71 266.19,750.71 263.4,750.71 260.61,750.71 257.81,750.7 255,750.7" fill="#cbb2cc" stroke="#000" stroke-width="1.2" stroke-linejoin="miter"/>
</g>
<g font-size="20" fill="#262626" stroke="#262626" stroke-width="0.3">
<text transform="translate(254.56 779.1) scale(1 1.04)" text-anchor="middle">0</text>
<text transform="translate(385.9 779.1) scale(1 1.04)" text-anchor="middle">0.2</text>
<text transform="translate(516.9 779.1) scale(1 1.04)" text-anchor="middle">0.4</text>
<text transform="translate(648.9 779.1) scale(1 1.04)" text-anchor="middle">0.6</text>
<text transform="translate(779.9 779.1) scale(1 1.04)" text-anchor="middle">0.8</text>
<text transform="translate(910.56 779.1) scale(1 1.04)" text-anchor="middle">1</text>
<text transform="translate(246.0 758.9) scale(1 1.04)" text-anchor="end">0</text>
<text transform="translate(246.0 692.9) scale(1 1.04)" text-anchor="end">100</text>
<text transform="translate(246.0 626.9) scale(1 1.04)" text-anchor="end">200</text>
<text transform="translate(246.0 561.9) scale(1 1.04)" text-anchor="end">300</text>
<text transform="translate(246.0 495.9) scale(1 1.04)" text-anchor="end">400</text>
<text transform="translate(246.0 429.9) scale(1 1.04)" text-anchor="end">500</text>
<text transform="translate(246.0 364.9) scale(1 1.04)" text-anchor="end">600</text>
<text transform="translate(246.0 298.9) scale(1 1.04)" text-anchor="end">700</text>
<text transform="translate(246.0 232.9) scale(1 1.04)" text-anchor="end">800</text>
<text transform="translate(246.0 166.9) scale(1 1.04)" text-anchor="end">900</text>
<text transform="translate(246.0 101.9) scale(1 1.04)" text-anchor="end">1000</text>
<text x="583.0" y="806.5" font-size="22" text-anchor="middle">r</text>
</g>
<text transform="translate(582.5 85.7) scale(1 1.04)" font-size="22" font-weight="bold" fill="#000" stroke="#000" stroke-width="0.3" text-anchor="middle">r=[0,0.999]</text>
<g stroke="#262626" stroke-width="1" fill="none">
<rect x="1118.5" y="94.5" width="656.0" height="657.0"/>
<path d="M1190.5 751.5v-6.5M1190.5 94.5v5.5M1263.5 751.5v-6.5M1263.5 94.5v5.5M1336.5 751.5v-6.5M1336.5 94.5v5.5M1409.5 751.5v-6.5M1409.5 94.5v5.5M1482.5 751.5v-6.5M1482.5 94.5v5.5M1555.5 751.5v-6.5M1555.5 94.5v5.5M1628.5 751.5v-6.5M1628.5 94.5v5.5M1701.5 751.5v-6.5M1701.5 94.5v5.5M1118.5 641.5h5.5M1774.5 641.5h-6.5M1118.5 532.5h5.5M1774.5 532.5h-6.5M1118.5 422.5h5.5M1774.5 422.5h-6.5M1118.5 313.5h5.5M1774.5 313.5h-6.5M1118.5 203.5h5.5M1774.5 203.5h-6.5"/>
</g>
<clipPath id="clip2"><rect x="1118.0" y="95.0" width="696" height="697"/></clipPath>
<g fill="none" stroke-linejoin="round" clip-path="url(#clip2)">
<polyline points="1117.93,642.5 1118.86,642.57 1119.8,642.64 1120.74,642.71 1121.68,642.78 1122.62,642.85 1123.56,642.92 1124.5,642.99 1125.43,643.06 1126.37,643.12 1127.31,643.19 1128.25,643.26 1129.19,643.33 1130.13,643.4 1131.07,643.47 1132.01,643.53 1132.94,643.6 1133.88,643.67 1134.82,643.74 1135.76,643.8 1136.7,643.87 1137.64,643.94 1138.58,644.01 1139.51,644.07 1140.45,644.14 1141.39,644.2 1142.33,644.27 1143.27,644.34 1144.21,644.4 1145.15,644.47 1146.09,644.53 1147.02,644.6 1147.96,644.66 1148.9,644.73 1149.84,644.79 1150.78,644.86 1151.72,644.92 1152.66,644.99 1153.59,645.05 1154.53,645.12 1155.47,645.18 1156.41,645.24 1157.35,645.31 1158.29,645.37 1159.23,645.43 1160.16,645.5 1161.1,645.56 1162.04,645.62 1162.98,645.68 1163.92,645.75 1164.86,645.81 1165.8,645.87 1166.74,645.93 1167.67,646 1168.61,646.06 1169.55,646.12 1170.49,646.18 1171.43,646.24 1172.37,646.3 1173.31,646.36 1174.24,646.42 1175.18,646.48 1176.12,646.55 1177.06,646.61 1178,646.67 1178.94,646.73 1179.88,646.79 1180.81,646.85 1181.75,646.91 1182.69,646.97 1183.63,647.02 1184.57,647.08 1185.51,647.14 1186.45,647.2 1187.39,647.26 1188.32,647.32 1189.26,647.38 1190.2,647.44 1191.14,647.49 1192.08,647.55 1193.02,647.61 1193.96,647.67 1194.89,647.73 1195.83,647.78 1196.77,647.84 1197.71,647.9 1198.65,647.96 1199.59,648.01 1200.53,648.07 1201.46,648.13 1202.4,648.18 1203.34,648.24 1204.28,648.3 1205.22,648.35 1206.16,648.41 1207.1,648.47 1208.04,648.52 1208.97,648.58 1209.91,648.63 1210.85,648.69 1211.79,648.74 1212.73,648.8 1213.67,648.85 1214.61,648.91 1215.54,648.96 1216.48,649.02 1217.42,649.07 1218.36,649.13 1219.3,649.18 1220.24,649.24 1221.18,649.29 1222.11,649.34 1223.05,649.4 1223.99,649.45 1224.93,649.51 1225.87,649.56 1226.81,649.61 1227.75,649.67 1228.68,649.72 1229.62,649.77 1230.56,649.83 1231.5,649.88 1232.44,649.93 1233.38,649.98 1234.32,650.04 1235.25,650.09 1236.19,650.14 1237.13,650.19 1238.07,650.24 1239.01,650.3 1239.95,650.35 1240.89,650.4 1241.83,650.45 1242.76,650.5 1243.7,650.55 1244.64,650.61 1245.58,650.66 1246.52,650.71 1247.46,650.76 1248.4,650.81 1249.33,650.86 1250.27,650.91 1251.21,650.96 1252.15,651.01 1253.09,651.06 1254.03,651.11 1254.97,651.16 1255.9,651.21 1256.84,651.26 1257.78,651.31 1258.72,651.36 1259.66,651.41 1260.6,651.46 1261.54,651.51 1262.47,651.56 1263.41,651.61 1264.35,651.66 1265.29,651.71 1266.23,651.75 1267.17,651.8 1268.11,651.85 1269.04,651.9 1269.98,651.95 1270.92,652 1271.86,652.04 1272.8,652.09 1273.74,652.14 1274.68,652.19 1275.61,652.24 1276.55,652.28 1277.49,652.33 1278.43,652.38 1279.37,652.43 1280.31,652.47 1281.25,652.52 1282.18,652.57 1283.12,652.61 1284.06,652.66 1285,652.71 1285.94,652.75 1286.88,652.8 1287.82,652.85 1288.75,652.89 1289.69,652.94 1290.63,652.99 1291.57,653.03 1292.51,653.08 1293.45,653.12 1294.39,653.17 1295.32,653.21 1296.26,653.26 1297.2,653.31 1298.14,653.35 1299.08,653.4 1300.02,653.44 1300.96,653.49 1301.89,653.53 1302.83,653.58 1303.77,653.62 1304.71,653.67 1305.65,653.71 1306.59,653.76 1307.53,653.8 1308.47,653.84 1309.4,653.89 1310.34,653.93 1311.28,653.98 1312.22,654.02 1313.16,654.06 1314.1,654.11 1315.04,654.15 1315.97,654.2 1316.91,654.24 1317.85,654.28 1318.79,654.33 1319.73,654.37 1320.67,654.41 1321.61,654.46 1322.54,654.5 1323.48,654.54 1324.42,654.58 1325.36,654.63 1326.3,654.67 1327.24,654.71 1328.18,654.75 1329.11,654.8 1330.05,654.84 1330.99,654.88 1331.93,654.92 1332.87,654.97 1333.81,655.01 1334.75,655.05 1335.68,655.09 1336.62,655.13 1337.56,655.18 1338.5,655.22 1339.44,655.26 1340.38,655.3 1341.32,655.34 1342.25,655.38 1343.19,655.42 1344.13,655.46 1345.07,655.51 1346.01,655.55 1346.95,655.59 1347.89,655.63 1348.82,655.67 1349.76,655.71 1350.7,655.75 1351.64,655.79 1352.58,655.83 1353.52,655.87 1354.46,655.91 1355.39,655.95 1356.33,655.99 1357.27,656.03 1358.21,656.07 1359.15,656.11 1360.09,656.15 1361.03,656.19 1361.96,656.23 1362.9,656.27 1363.84,656.31 1364.78,656.35 1365.72,656.39 1366.66,656.43 1367.59,656.47 1368.53,656.51 1369.47,656.54 1370.41,656.58 1371.35,656.62 1372.29,656.66 1373.23,656.7 1374.16,656.74 1375.1,656.78 1376.04,656.82 1376.98,656.85 1377.92,656.89 1378.86,656.93 1379.8,656.97 1380.73,657.01 1381.67,657.05 1382.61,657.08 1383.55,657.12 1384.49,657.16 1385.43,657.2 1386.37,657.23 1387.3,657.27 1388.24,657.31 1389.18,657.35 1390.12,657.38 1391.06,657.42 1392,657.46 1392.94,657.5 1393.87,657.53 1394.81,657.57 1395.75,657.61 1396.69,657.64 1397.63,657.68 1398.57,657.72 1399.51,657.75 1400.44,657.79 1401.38,657.83 1402.32,657.86 1403.26,657.9 1404.2,657.94 1405.14,657.97 1406.08,658.01 1407.01,658.05 1407.95,658.08 1408.89,658.12 1409.83,658.15 1410.77,658.19 1411.71,658.23 1412.65,658.26 1413.58,658.3 1414.52,658.33 1415.46,658.37 1416.4,658.4 1417.34,658.44 1418.28,658.47 1419.22,658.51 1420.15,658.55 1421.09,658.58 1422.03,658.62 1422.97,658.65 1423.91,658.69 1424.85,658.72 1425.79,658.76 1426.72,658.79 1427.66,658.83 1428.6,658.86 1429.54,658.89 1430.48,658.93 1431.42,658.96 1432.36,659 1433.29,659.03 1434.23,659.07 1435.17,659.1 1436.11,659.14 1437.05,659.17 1437.99,659.2 1438.93,659.24 1439.86,659.27 1440.8,659.31 1441.74,659.34 1442.68,659.37 1443.62,659.41 1444.56,659.44 1445.5,659.47 1446.43,659.51 1447.37,659.54 1448.31,659.57 1449.25,659.61 1450.19,659.64 1451.13,659.67 1452.06,659.71 1453,659.74 1453.94,659.77 1454.88,659.81 1455.82,659.84 1456.76,659.87 1457.7,659.91 1458.63,659.94 1459.57,659.97 1460.51,660 1461.45,660.04 1462.39,660.07 1463.33,660.1 1464.27,660.13 1465.2,660.17 1466.14,660.2 1467.08,660.23 1468.02,660.26 1468.96,660.29 1469.9,660.33 1470.84,660.36 1471.77,660.39 1472.71,660.42 1473.65,660.45 1474.59,660.49 1475.53,660.52 1476.47,660.55 1477.41,660.58 1478.34,660.61 1479.28,660.64 1480.22,660.68 1481.16,660.71 1482.1,660.74 1483.04,660.77 1483.98,660.8 1484.91,660.83 1485.85,660.86 1486.79,660.9 1487.73,660.93 1488.67,660.96 1489.61,660.99 1490.55,661.02 1491.48,661.05 1492.42,661.08 1493.36,661.11 1494.3,661.14 1495.24,661.17 1496.18,661.2 1497.11,661.23 1498.05,661.26 1498.99,661.29 1499.93,661.33 1500.87,661.36 1501.81,661.39 1502.75,661.42 1503.68,661.45 1504.62,661.48 1505.56,661.51 1506.5,661.54 1507.44,661.57 1508.38,661.6 1509.32,661.63 1510.25,661.66 1511.19,661.69 1512.13,661.72 1513.07,661.75 1514.01,661.77 1514.95,661.8 1515.89,661.83 1516.82,661.86 1517.76,661.89 1518.7,661.92 1519.64,661.95 1520.58,661.98 1521.52,662.01 1522.46,662.04 1523.39,662.07 1524.33,662.1 1525.27,662.13 1526.21,662.16 1527.15,662.18 1528.09,662.21 1529.03,662.24 1529.96,662.27 1530.9,662.3 1531.84,662.33 1532.78,662.36 1533.72,662.39 1534.66,662.41 1535.59,662.44 1536.53,662.47 1537.47,662.5 1538.41,662.53 1539.35,662.56 1540.29,662.58 1541.23,662.61 1542.16,662.64 1543.1,662.67 1544.04,662.7 1544.98,662.73 1545.92,662.75 1546.86,662.78 1547.8,662.81 1548.73,662.84 1549.67,662.86 1550.61,662.89 1551.55,662.92 1552.49,662.95 1553.43,662.98 1554.37,663 1555.3,663.03 1556.24,663.06 1557.18,663.09 1558.12,663.11 1559.06,663.14 1560,663.17 1560.94,663.2 1561.87,663.22 1562.81,663.25 1563.75,663.28 1564.69,663.3 1565.63,663.33 1566.57,663.36 1567.5,663.39 1568.44,663.41 1569.38,663.44 1570.32,663.47 1571.26,663.49 1572.2,663.52 1573.14,663.55 1574.07,663.57 1575.01,663.6 1575.95,663.63 1576.89,663.65 1577.83,663.68 1578.77,663.71 1579.71,663.73 1580.64,663.76 1581.58,663.78 1582.52,663.81 1583.46,663.84 1584.4,663.86 1585.34,663.89 1586.28,663.92 1587.21,663.94 1588.15,663.97 1589.09,663.99 1590.03,664.02 1590.97,664.05 1591.91,664.07 1592.85,664.1 1593.78,664.12 1594.72,664.15 1595.66,664.18 1596.6,664.2 1597.54,664.23 1598.48,664.25 1599.41,664.28 1600.35,664.3 1601.29,664.33 1602.23,664.35 1603.17,664.38 1604.11,664.41 1605.05,664.43 1605.98,664.46 1606.92,664.48 1607.86,664.51 1608.8,664.53 1609.74,664.56 1610.68,664.58 1611.62,664.61 1612.55,664.63 1613.49,664.66 1614.43,664.68 1615.37,664.71 1616.31,664.73 1617.25,664.76 1618.19,664.78 1619.12,664.81 1620.06,664.83 1621,664.86 1621.94,664.88 1622.88,664.9 1623.82,664.93 1624.75,664.95 1625.69,664.98 1626.63,665 1627.57,665.03 1628.51,665.05 1629.45,665.08 1630.39,665.1 1631.32,665.12 1632.26,665.15 1633.2,665.17 1634.14,665.2 1635.08,665.22 1636.02,665.25 1636.96,665.27 1637.89,665.29 1638.83,665.32 1639.77,665.34 1640.71,665.37 1641.65,665.39 1642.59,665.41 1643.53,665.44 1644.46,665.46 1645.4,665.48 1646.34,665.51 1647.28,665.53 1648.22,665.56 1649.16,665.58 1650.1,665.6 1651.03,665.63 1651.97,665.65 1652.91,665.67 1653.85,665.7 1654.79,665.72 1655.73,665.74 1656.66,665.77 1657.6,665.79 1658.54,665.81 1659.48,665.84 1660.42,665.86 1661.36,665.88 1662.3,665.91 1663.23,665.93 1664.17,665.95 1665.11,665.98 1666.05,666 1666.99,666.02 1667.93,666.04 1668.87,666.07 1669.8,666.09 1670.74,666.11 1671.68,666.14 1672.62,666.16 1673.56,666.18 1674.5,666.2 1675.44,666.23 1676.37,666.25 1677.31,666.27 1678.25,666.29 1679.19,666.32 1680.13,666.34 1681.07,666.36 1682,666.38 1682.94,666.41 1683.88,666.43 1684.82,666.45 1685.76,666.47 1686.7,666.5 1687.64,666.52 1688.57,666.54 1689.51,666.56 1690.45,666.58 1691.39,666.61 1692.33,666.63 1693.27,666.65 1694.21,666.67 1695.14,666.69 1696.08,666.72 1697.02,666.74 1697.96,666.76 1698.9,666.78 1699.84,666.8 1700.78,666.83 1701.71,666.85 1702.65,666.87 1703.59,666.89 1704.53,666.91 1705.47,666.93 1706.41,666.96 1707.34,666.98 1708.28,667 1709.22,667.02 1710.16,667.04 1711.1,667.06 1712.04,667.08 1712.98,667.11 1713.91,667.13 1714.85,667.15 1715.79,667.17 1716.73,667.19 1717.67,667.21 1718.61,667.23 1719.55,667.26 1720.48,667.28 1721.42,667.3 1722.36,667.32 1723.3,667.34 1724.24,667.36 1725.18,667.38 1726.12,667.4 1727.05,667.42 1727.99,667.44 1728.93,667.47 1729.87,667.49 1730.81,667.51 1731.75,667.53 1732.68,667.55 1733.62,667.57 1734.56,667.59 1735.5,667.61 1736.44,667.63 1737.38,667.65 1738.32,667.67 1739.25,667.69 1740.19,667.71 1741.13,667.73 1742.07,667.75 1743.01,667.77 1743.95,667.8 1744.89,667.82 1745.82,667.84 1746.76,667.86 1747.7,667.88 1748.64,667.9 1749.58,667.92 1750.52,667.94 1751.45,667.96 1752.39,667.98 1753.33,668 1754.27,668.02 1755.21,668.04 1756.15,668.06 1757.09,668.08 1758.02,668.1 1758.96,668.12 1759.9,668.14 1760.84,668.16 1761.78,668.18 1762.72,668.2 1763.66,668.22 1764.59,668.24 1765.53,668.26 1766.47,668.28 1767.41,668.3 1768.35,668.32 1769.29,668.34 1770.23,668.36 1771.16,668.38 1772.1,668.39 1773.04,668.41 1773.98,668.43 1774.18,668.44" stroke="#0000ff" stroke-width="2"/>
<polyline points="1118,641.5 1118.94,641.43 1119.88,641.36 1120.82,641.29 1121.75,641.22 1122.69,641.15 1123.63,641.07 1124.57,641 1125.51,640.93 1126.45,640.86 1127.38,640.79 1128.32,640.71 1129.26,640.64 1130.2,640.57 1131.14,640.49 1132.08,640.42 1133.02,640.35 1133.95,640.27 1134.89,640.2 1135.83,640.13 1136.77,640.05 1137.71,639.98 1138.65,639.9 1139.59,639.83 1140.52,639.75 1141.46,639.68 1142.4,639.6 1143.34,639.53 1144.28,639.45 1145.22,639.38 1146.15,639.3 1147.09,639.22 1148.03,639.15 1148.97,639.07 1149.91,638.99 1150.85,638.92 1151.79,638.84 1152.72,638.76 1153.66,638.68 1154.6,638.61 1155.54,638.53 1156.48,638.45 1157.42,638.37 1158.35,638.29 1159.29,638.21 1160.23,638.13 1161.17,638.05 1162.11,637.97 1163.05,637.89 1163.99,637.81 1164.92,637.73 1165.86,637.65 1166.8,637.57 1167.74,637.49 1168.68,637.41 1169.62,637.33 1170.56,637.25 1171.49,637.16 1172.43,637.08 1173.37,637 1174.31,636.92 1175.25,636.83 1176.19,636.75 1177.12,636.67 1178.06,636.58 1179,636.5 1179.94,636.42 1180.88,636.33 1181.82,636.25 1182.76,636.16 1183.69,636.08 1184.63,635.99 1185.57,635.91 1186.51,635.82 1187.45,635.73 1188.39,635.65 1189.32,635.56 1190.26,635.47 1191.2,635.39 1192.14,635.3 1193.08,635.21 1194.02,635.13 1194.96,635.04 1195.89,634.95 1196.83,634.86 1197.77,634.77 1198.71,634.68 1199.65,634.59 1200.59,634.5 1201.53,634.41 1202.46,634.32 1203.4,634.23 1204.34,634.14 1205.28,634.05 1206.22,633.96 1207.16,633.87 1208.09,633.78 1209.03,633.69 1209.97,633.59 1210.91,633.5 1211.85,633.41 1212.79,633.32 1213.73,633.22 1214.66,633.13 1215.6,633.04 1216.54,632.94 1217.48,632.85 1218.42,632.75 1219.36,632.66 1220.29,632.56 1221.23,632.47 1222.17,632.37 1223.11,632.27 1224.05,632.18 1224.99,632.08 1225.93,631.98 1226.86,631.89 1227.8,631.79 1228.74,631.69 1229.68,631.59 1230.62,631.49 1231.56,631.4 1232.49,631.3 1233.43,631.2 1234.37,631.1 1235.31,631 1236.25,630.9 1237.19,630.8 1238.13,630.7 1239.06,630.6 1240,630.49 1240.94,630.39 1241.88,630.29 1242.82,630.19 1243.76,630.08 1244.7,629.98 1245.63,629.88 1246.57,629.77 1247.51,629.67 1248.45,629.57 1249.39,629.46 1250.33,629.36 1251.26,629.25 1252.2,629.14 1253.14,629.04 1254.08,628.93 1255.02,628.83 1255.96,628.72 1256.9,628.61 1257.83,628.5 1258.77,628.39 1259.71,628.29 1260.65,628.18 1261.59,628.07 1262.53,627.96 1263.46,627.85 1264.4,627.74 1265.34,627.63 1266.28,627.52 1267.22,627.41 1268.16,627.29 1269.1,627.18 1270.03,627.07 1270.97,626.96 1271.91,626.84 1272.85,626.73 1273.79,626.62 1274.73,626.5 1275.67,626.39 1276.6,626.27 1277.54,626.16 1278.48,626.04 1279.42,625.93 1280.36,625.81 1281.3,625.69 1282.23,625.58 1283.17,625.46 1284.11,625.34 1285.05,625.22 1285.99,625.1 1286.93,624.98 1287.87,624.86 1288.8,624.74 1289.74,624.62 1290.68,624.5 1291.62,624.38 1292.56,624.26 1293.5,624.14 1294.43,624.01 1295.37,623.89 1296.31,623.77 1297.25,623.64 1298.19,623.52 1299.13,623.4 1300.07,623.27 1301,623.15 1301.94,623.02 1302.88,622.89 1303.82,622.77 1304.76,622.64 1305.7,622.51 1306.64,622.38 1307.57,622.25 1308.51,622.13 1309.45,622 1310.39,621.87 1311.33,621.74 1312.27,621.61 1313.2,621.47 1314.14,621.34 1315.08,621.21 1316.02,621.08 1316.96,620.94 1317.9,620.81 1318.84,620.68 1319.77,620.54 1320.71,620.41 1321.65,620.27 1322.59,620.14 1323.53,620 1324.47,619.86 1325.4,619.72 1326.34,619.59 1327.28,619.45 1328.22,619.31 1329.16,619.17 1330.1,619.03 1331.04,618.89 1331.97,618.75 1332.91,618.61 1333.85,618.46 1334.79,618.32 1335.73,618.18 1336.67,618.04 1337.61,617.89 1338.54,617.75 1339.48,617.6 1340.42,617.46 1341.36,617.31 1342.3,617.16 1343.24,617.02 1344.17,616.87 1345.11,616.72 1346.05,616.57 1346.99,616.42 1347.93,616.27 1348.87,616.12 1349.81,615.97 1350.74,615.82 1351.68,615.66 1352.62,615.51 1353.56,615.36 1354.5,615.2 1355.44,615.05 1356.37,614.89 1357.31,614.74 1358.25,614.58 1359.19,614.42 1360.13,614.27 1361.07,614.11 1362.01,613.95 1362.94,613.79 1363.88,613.63 1364.82,613.47 1365.76,613.31 1366.7,613.14 1367.64,612.98 1368.58,612.82 1369.51,612.65 1370.45,612.49 1371.39,612.32 1372.33,612.16 1373.27,611.99 1374.21,611.82 1375.14,611.66 1376.08,611.49 1377.02,611.32 1377.96,611.15 1378.9,610.98 1379.84,610.81 1380.78,610.63 1381.71,610.46 1382.65,610.29 1383.59,610.11 1384.53,609.94 1385.47,609.76 1386.41,609.59 1387.34,609.41 1388.28,609.23 1389.22,609.05 1390.16,608.88 1391.1,608.7 1392.04,608.51 1392.98,608.33 1393.91,608.15 1394.85,607.97 1395.79,607.78 1396.73,607.6 1397.67,607.41 1398.61,607.23 1399.55,607.04 1400.48,606.85 1401.42,606.67 1402.36,606.48 1403.3,606.29 1404.24,606.1 1405.18,605.9 1406.11,605.71 1407.05,605.52 1407.99,605.33 1408.93,605.13 1409.87,604.93 1410.81,604.74 1411.75,604.54 1412.68,604.34 1413.62,604.14 1414.56,603.94 1415.5,603.74 1416.44,603.54 1417.38,603.34 1418.31,603.14 1419.25,602.93 1420.19,602.73 1421.13,602.52 1422.07,602.31 1423.01,602.1 1423.95,601.9 1424.88,601.69 1425.82,601.47 1426.76,601.26 1427.7,601.05 1428.64,600.84 1429.58,600.62 1430.52,600.41 1431.45,600.19 1432.39,599.97 1433.33,599.75 1434.27,599.53 1435.21,599.31 1436.15,599.09 1437.08,598.87 1438.02,598.65 1438.96,598.42 1439.9,598.2 1440.84,597.97 1441.78,597.74 1442.72,597.51 1443.65,597.28 1444.59,597.05 1445.53,596.82 1446.47,596.59 1447.41,596.35 1448.35,596.12 1449.28,595.88 1450.22,595.64 1451.16,595.41 1452.1,595.17 1453.04,594.93 1453.98,594.68 1454.92,594.44 1455.85,594.2 1456.79,593.95 1457.73,593.7 1458.67,593.46 1459.61,593.21 1460.55,592.96 1461.48,592.7 1462.42,592.45 1463.36,592.2 1464.3,591.94 1465.24,591.69 1466.18,591.43 1467.12,591.17 1468.05,590.91 1468.99,590.65 1469.93,590.38 1470.87,590.12 1471.81,589.86 1472.75,589.59 1473.69,589.32 1474.62,589.05 1475.56,588.78 1476.5,588.51 1477.44,588.23 1478.38,587.96 1479.32,587.68 1480.25,587.4 1481.19,587.12 1482.13,586.84 1483.07,586.56 1484.01,586.28 1484.95,585.99 1485.89,585.71 1486.82,585.42 1487.76,585.13 1488.7,584.84 1489.64,584.54 1490.58,584.25 1491.52,583.95 1492.45,583.66 1493.39,583.36 1494.33,583.06 1495.27,582.76 1496.21,582.45 1497.15,582.15 1498.09,581.84 1499.02,581.53 1499.96,581.22 1500.9,580.91 1501.84,580.59 1502.78,580.28 1503.72,579.96 1504.66,579.64 1505.59,579.32 1506.53,579 1507.47,578.68 1508.41,578.35 1509.35,578.02 1510.29,577.69 1511.22,577.36 1512.16,577.03 1513.1,576.69 1514.04,576.36 1514.98,576.02 1515.92,575.68 1516.86,575.33 1517.79,574.99 1518.73,574.64 1519.67,574.29 1520.61,573.94 1521.55,573.59 1522.49,573.23 1523.42,572.88 1524.36,572.52 1525.3,572.16 1526.24,571.79 1527.18,571.43 1528.12,571.06 1529.06,570.69 1529.99,570.32 1530.93,569.95 1531.87,569.57 1532.81,569.19 1533.75,568.81 1534.69,568.43 1535.63,568.04 1536.56,567.65 1537.5,567.26 1538.44,566.87 1539.38,566.48 1540.32,566.08 1541.26,565.68 1542.19,565.28 1543.13,564.87 1544.07,564.47 1545.01,564.06 1545.95,563.64 1546.89,563.23 1547.83,562.81 1548.76,562.39 1549.7,561.97 1550.64,561.54 1551.58,561.11 1552.52,560.68 1553.46,560.25 1554.39,559.81 1555.33,559.38 1556.27,558.93 1557.21,558.49 1558.15,558.04 1559.09,557.59 1560.03,557.14 1560.96,556.68 1561.9,556.22 1562.84,555.76 1563.78,555.29 1564.72,554.82 1565.66,554.35 1566.6,553.88 1567.53,553.4 1568.47,552.92 1569.41,552.43 1570.35,551.94 1571.29,551.45 1572.23,550.96 1573.16,550.46 1574.1,549.96 1575.04,549.45 1575.98,548.94 1576.92,548.43 1577.86,547.92 1578.8,547.4 1579.73,546.87 1580.67,546.35 1581.61,545.82 1582.55,545.28 1583.49,544.74 1584.43,544.2 1585.36,543.66 1586.3,543.11 1587.24,542.55 1588.18,542 1589.12,541.44 1590.06,540.87 1591,540.3 1591.93,539.73 1592.87,539.15 1593.81,538.56 1594.75,537.98 1595.69,537.39 1596.63,536.79 1597.57,536.19 1598.5,535.59 1599.44,534.98 1600.38,534.36 1601.32,533.74 1602.26,533.12 1603.2,532.49 1604.13,531.86 1605.07,531.22 1606.01,530.58 1606.95,529.93 1607.89,529.28 1608.83,528.62 1609.77,527.96 1610.7,527.29 1611.64,526.61 1612.58,525.93 1613.52,525.25 1614.46,524.56 1615.4,523.86 1616.33,523.16 1617.27,522.45 1618.21,521.74 1619.15,521.02 1620.09,520.29 1621.03,519.56 1621.97,518.83 1622.9,518.08 1623.84,517.33 1624.78,516.58 1625.72,515.82 1626.66,515.05 1627.6,514.27 1628.54,513.49 1629.47,512.7 1630.41,511.9 1631.35,511.1 1632.29,510.29 1633.23,509.47 1634.17,508.65 1635.1,507.82 1636.04,506.98 1636.98,506.13 1637.92,505.28 1638.86,504.42 1639.8,503.55 1640.74,502.67 1641.67,501.79 1642.61,500.89 1643.55,499.99 1644.49,499.08 1645.43,498.16 1646.37,497.24 1647.3,496.3 1648.24,495.36 1649.18,494.4 1650.12,493.44 1651.06,492.47 1652,491.49 1652.94,490.5 1653.87,489.5 1654.81,488.49 1655.75,487.47 1656.69,486.44 1657.63,485.39 1658.57,484.34 1659.51,483.28 1660.44,482.21 1661.38,481.13 1662.32,480.03 1663.26,478.93 1664.2,477.81 1665.14,476.68 1666.07,475.54 1667.01,474.39 1667.95,473.23 1668.89,472.05 1669.83,470.87 1670.77,469.66 1671.71,468.45 1672.64,467.22 1673.58,465.98 1674.52,464.73 1675.46,463.46 1676.4,462.18 1677.34,460.89 1678.27,459.58 1679.21,458.25 1680.15,456.91 1681.09,455.56 1682.03,454.19 1682.97,452.8 1683.91,451.4 1684.84,449.98 1685.78,448.55 1686.72,447.09 1687.66,445.63 1688.6,444.14 1689.54,442.64 1690.47,441.12 1691.41,439.57 1692.35,438.02 1693.29,436.44 1694.23,434.84 1695.17,433.22 1696.11,431.59 1697.04,429.93 1697.98,428.25 1698.92,426.55 1699.86,424.83 1700.8,423.09 1701.74,421.32 1702.68,419.53 1703.61,417.72 1704.55,415.88 1705.49,414.02 1706.43,412.14 1707.37,410.22 1708.31,408.29 1709.24,406.32 1710.18,404.33 1711.12,402.32 1712.06,400.27 1713,398.2 1713.94,396.09 1714.88,393.96 1715.81,391.79 1716.75,389.6 1717.69,387.37 1718.63,385.11 1719.57,382.82 1720.51,380.49 1721.44,378.13 1722.38,375.73 1723.32,373.29 1724.26,370.82 1725.2,368.31 1726.14,365.76 1727.08,363.18 1728.01,360.55 1728.95,357.87 1729.89,355.16 1730.83,352.4 1731.77,349.6 1732.71,346.75 1733.65,343.85 1734.58,340.91 1735.52,337.91 1736.46,334.87 1737.4,331.77 1738.34,328.62 1739.28,325.41 1740.21,322.15 1741.15,318.83 1742.09,315.45 1743.03,312.01 1743.97,308.51 1744.91,304.94 1745.85,301.3 1746.78,297.6 1747.72,293.83 1748.66,289.98 1749.6,286.07 1750.54,282.07 1751.48,278 1752.41,273.84 1753.35,269.6 1754.29,265.28 1755.23,260.87 1756.17,256.36 1757.11,251.76 1758.05,247.07 1758.98,242.27 1759.92,237.37 1760.86,232.37 1761.8,227.25 1762.74,222.02 1763.68,216.67 1764.62,211.2 1765.55,205.61 1766.49,199.88 1767.43,194.02 1768.37,188.01 1769.31,181.86 1770.25,175.57 1771.18,169.11 1772.12,162.49 1773.06,155.71 1774,148.75 1774.09,148.06" stroke="#ff0000" stroke-width="4"/>
<polygon points="1118,641.5 1118.94,641.43 1119.88,641.36 1120.82,641.29 1121.75,641.22 1122.69,641.15 1123.63,641.07 1124.57,641 1125.51,640.93 1126.45,640.86 1127.38,640.79 1128.32,640.71 1129.26,640.64 1130.2,640.57 1131.14,640.49 1132.08,640.42 1133.02,640.35 1133.95,640.27 1134.89,640.2 1135.83,640.13 1136.77,640.05 1137.71,639.98 1138.65,639.9 1139.59,639.83 1140.52,639.75 1141.46,639.68 1142.4,639.6 1143.34,639.53 1144.28,639.45 1145.22,639.38 1146.15,639.3 1147.09,639.22 1148.03,639.15 1148.97,639.07 1149.91,638.99 1150.85,638.92 1151.79,638.84 1152.72,638.76 1153.66,638.68 1154.6,638.61 1155.54,638.53 1156.48,638.45 1157.42,638.37 1158.35,638.29 1159.29,638.21 1160.23,638.13 1161.17,638.05 1162.11,637.97 1163.05,637.89 1163.99,637.81 1164.92,637.73 1165.86,637.65 1166.8,637.57 1167.74,637.49 1168.68,637.41 1169.62,637.33 1170.56,637.25 1171.49,637.16 1172.43,637.08 1173.37,637 1174.31,636.92 1175.25,636.83 1176.19,636.75 1177.12,636.67 1178.06,636.58 1179,636.5 1179.94,636.42 1180.88,636.33 1181.82,636.25 1182.76,636.16 1183.69,636.08 1184.63,635.99 1185.57,635.91 1186.51,635.82 1187.45,635.73 1188.39,635.65 1189.32,635.56 1190.26,635.47 1191.2,635.39 1192.14,635.3 1193.08,635.21 1194.02,635.13 1194.96,635.04 1195.89,634.95 1196.83,634.86 1197.77,634.77 1198.71,634.68 1199.65,634.59 1200.59,634.5 1201.53,634.41 1202.46,634.32 1203.4,634.23 1204.34,634.14 1205.28,634.05 1206.22,633.96 1207.16,633.87 1208.09,633.78 1209.03,633.69 1209.97,633.59 1210.91,633.5 1211.85,633.41 1212.79,633.32 1213.73,633.22 1214.66,633.13 1215.6,633.04 1216.54,632.94 1217.48,632.85 1218.42,632.75 1219.36,632.66 1220.29,632.56 1221.23,632.47 1222.17,632.37 1223.11,632.27 1224.05,632.18 1224.99,632.08 1225.93,631.98 1226.86,631.89 1227.8,631.79 1228.74,631.69 1229.68,631.59 1230.62,631.49 1231.56,631.4 1232.49,631.3 1233.43,631.2 1234.37,631.1 1235.31,631 1236.25,630.9 1237.19,630.8 1238.13,630.7 1239.06,630.6 1240,630.49 1240.94,630.39 1241.88,630.29 1242.82,630.19 1243.76,630.08 1244.7,629.98 1245.63,629.88 1246.57,629.77 1247.51,629.67 1248.45,629.57 1249.39,629.46 1250.33,629.36 1251.26,629.25 1252.2,629.14 1253.14,629.04 1254.08,628.93 1255.02,628.83 1255.96,628.72 1256.9,628.61 1257.83,628.5 1258.77,628.39 1259.71,628.29 1260.65,628.18 1261.59,628.07 1262.53,627.96 1263.46,627.85 1264.4,627.74 1265.34,627.63 1266.28,627.52 1267.22,627.41 1268.16,627.29 1269.1,627.18 1270.03,627.07 1270.97,626.96 1271.91,626.84 1272.85,626.73 1273.79,626.62 1274.73,626.5 1275.67,626.39 1276.6,626.27 1277.54,626.16 1278.48,626.04 1279.42,625.93 1280.36,625.81 1281.3,625.69 1282.23,625.58 1283.17,625.46 1284.11,625.34 1285.05,625.22 1285.99,625.1 1286.93,624.98 1287.87,624.86 1288.8,624.74 1289.74,624.62 1290.68,624.5 1291.62,624.38 1292.56,624.26 1293.5,624.14 1294.43,624.01 1295.37,623.89 1296.31,623.77 1297.25,623.64 1298.19,623.52 1299.13,623.4 1300.07,623.27 1301,623.15 1301.94,623.02 1302.88,622.89 1303.82,622.77 1304.76,622.64 1305.7,622.51 1306.64,622.38 1307.57,622.25 1308.51,622.13 1309.45,622 1310.39,621.87 1311.33,621.74 1312.27,621.61 1313.2,621.47 1314.14,621.34 1315.08,621.21 1316.02,621.08 1316.96,620.94 1317.9,620.81 1318.84,620.68 1319.77,620.54 1320.71,620.41 1321.65,620.27 1322.59,620.14 1323.53,620 1324.47,619.86 1325.4,619.72 1326.34,619.59 1327.28,619.45 1328.22,619.31 1329.16,619.17 1330.1,619.03 1331.04,618.89 1331.97,618.75 1332.91,618.61 1333.85,618.46 1334.79,618.32 1335.73,618.18 1336.67,618.04 1337.61,617.89 1338.54,617.75 1339.48,617.6 1340.42,617.46 1341.36,617.31 1342.3,617.16 1343.24,617.02 1344.17,616.87 1345.11,616.72 1346.05,616.57 1346.99,616.42 1347.93,616.27 1348.87,616.12 1349.81,615.97 1350.74,615.82 1351.68,615.66 1352.62,615.51 1353.56,615.36 1354.5,615.2 1355.44,615.05 1356.37,614.89 1357.31,614.74 1358.25,614.58 1359.19,614.42 1360.13,614.27 1361.07,614.11 1362.01,613.95 1362.94,613.79 1363.88,613.63 1364.82,613.47 1365.76,613.31 1366.7,613.14 1367.64,612.98 1368.58,612.82 1369.51,612.65 1370.45,612.49 1371.39,612.32 1372.33,612.16 1373.27,611.99 1374.21,611.82 1375.14,611.66 1376.08,611.49 1377.02,611.32 1377.96,611.15 1378.9,610.98 1379.84,610.81 1380.78,610.63 1381.71,610.46 1382.65,610.29 1383.59,610.11 1384.53,609.94 1385.47,609.76 1386.41,609.59 1387.34,609.41 1388.28,609.23 1389.22,609.05 1390.16,608.88 1391.1,608.7 1392.04,608.51 1392.98,608.33 1393.91,608.15 1394.85,607.97 1395.79,607.78 1396.73,607.6 1397.67,607.41 1398.61,607.23 1399.55,607.04 1400.48,606.85 1401.42,606.67 1402.36,606.48 1403.3,606.29 1404.24,606.1 1405.18,605.9 1406.11,605.71 1407.05,605.52 1407.99,605.33 1408.93,605.13 1409.87,604.93 1410.81,604.74 1411.75,604.54 1412.68,604.34 1413.62,604.14 1414.56,603.94 1415.5,603.74 1416.44,603.54 1417.38,603.34 1418.31,603.14 1419.25,602.93 1420.19,602.73 1421.13,602.52 1422.07,602.31 1423.01,602.1 1423.95,601.9 1424.88,601.69 1425.82,601.47 1426.76,601.26 1427.7,601.05 1428.64,600.84 1429.58,600.62 1430.52,600.41 1431.45,600.19 1432.39,599.97 1433.33,599.75 1434.27,599.53 1435.21,599.31 1436.15,599.09 1437.08,598.87 1438.02,598.65 1438.96,598.42 1439.9,598.2 1440.84,597.97 1441.78,597.74 1442.72,597.51 1443.65,597.28 1444.59,597.05 1445.53,596.82 1446.47,596.59 1447.41,596.35 1448.35,596.12 1449.28,595.88 1450.22,595.64 1451.16,595.41 1452.1,595.17 1453.04,594.93 1453.98,594.68 1454.92,594.44 1455.85,594.2 1456.79,593.95 1457.73,593.7 1458.67,593.46 1459.61,593.21 1460.55,592.96 1461.48,592.7 1462.42,592.45 1463.36,592.2 1464.3,591.94 1465.24,591.69 1466.18,591.43 1467.12,591.17 1468.05,590.91 1468.99,590.65 1469.93,590.38 1470.87,590.12 1471.81,589.86 1472.75,589.59 1473.69,589.32 1474.62,589.05 1475.56,588.78 1476.5,588.51 1477.44,588.23 1478.38,587.96 1479.32,587.68 1480.25,587.4 1481.19,587.12 1482.13,586.84 1483.07,586.56 1484.01,586.28 1484.95,585.99 1485.89,585.71 1486.82,585.42 1487.76,585.13 1488.7,584.84 1489.64,584.54 1490.58,584.25 1491.52,583.95 1492.45,583.66 1493.39,583.36 1494.33,583.06 1495.27,582.76 1496.21,582.45 1497.15,582.15 1498.09,581.84 1499.02,581.53 1499.96,581.22 1500.9,580.91 1501.84,580.59 1502.78,580.28 1503.72,579.96 1504.66,579.64 1505.59,579.32 1506.53,579 1507.47,578.68 1508.41,578.35 1509.35,578.02 1510.29,577.69 1511.22,577.36 1512.16,577.03 1513.1,576.69 1514.04,576.36 1514.98,576.02 1515.92,575.68 1516.86,575.33 1517.79,574.99 1518.73,574.64 1519.67,574.29 1520.61,573.94 1521.55,573.59 1522.49,573.23 1523.42,572.88 1524.36,572.52 1525.3,572.16 1526.24,571.79 1527.18,571.43 1528.12,571.06 1529.06,570.69 1529.99,570.32 1530.93,569.95 1531.87,569.57 1532.81,569.19 1533.75,568.81 1534.69,568.43 1535.63,568.04 1536.56,567.65 1537.5,567.26 1538.44,566.87 1539.38,566.48 1540.32,566.08 1541.26,565.68 1542.19,565.28 1543.13,564.87 1544.07,564.47 1545.01,564.06 1545.95,563.64 1546.89,563.23 1547.83,562.81 1548.76,562.39 1549.7,561.97 1550.64,561.54 1551.58,561.11 1552.52,560.68 1553.46,560.25 1554.39,559.81 1555.33,559.38 1556.27,558.93 1557.21,558.49 1558.15,558.04 1559.09,557.59 1560.03,557.14 1560.96,556.68 1561.9,556.22 1562.84,555.76 1563.78,555.29 1564.72,554.82 1565.66,554.35 1566.6,553.88 1567.53,553.4 1568.47,552.92 1569.41,552.43 1570.35,551.94 1571.29,551.45 1572.23,550.96 1573.16,550.46 1574.1,549.96 1575.04,549.45 1575.98,548.94 1576.92,548.43 1577.86,547.92 1578.8,547.4 1579.73,546.87 1580.67,546.35 1581.61,545.82 1582.55,545.28 1583.49,544.74 1584.43,544.2 1585.36,543.66 1586.3,543.11 1587.24,542.55 1588.18,542 1589.12,541.44 1590.06,540.87 1591,540.3 1591.93,539.73 1592.87,539.15 1593.81,538.56 1594.75,537.98 1595.69,537.39 1596.63,536.79 1597.57,536.19 1598.5,535.59 1599.44,534.98 1600.38,534.36 1601.32,533.74 1602.26,533.12 1603.2,532.49 1604.13,531.86 1605.07,531.22 1606.01,530.58 1606.95,529.93 1607.89,529.28 1608.83,528.62 1609.77,527.96 1610.7,527.29 1611.64,526.61 1612.58,525.93 1613.52,525.25 1614.46,524.56 1615.4,523.86 1616.33,523.16 1617.27,522.45 1618.21,521.74 1619.15,521.02 1620.09,520.29 1621.03,519.56 1621.97,518.83 1622.9,518.08 1623.84,517.33 1624.78,516.58 1625.72,515.82 1626.66,515.05 1627.6,514.27 1628.54,513.49 1629.47,512.7 1630.41,511.9 1631.35,511.1 1632.29,510.29 1633.23,509.47 1634.17,508.65 1635.1,507.82 1636.04,506.98 1636.98,506.13 1637.92,505.28 1638.86,504.42 1639.8,503.55 1640.74,502.67 1641.67,501.79 1642.61,500.89 1643.55,499.99 1644.49,499.08 1645.43,498.16 1646.37,497.24 1647.3,496.3 1648.24,495.36 1649.18,494.4 1650.12,493.44 1651.06,492.47 1652,491.49 1652.94,490.5 1653.87,489.5 1654.81,488.49 1655.75,487.47 1656.69,486.44 1657.63,485.39 1658.57,484.34 1659.51,483.28 1660.44,482.21 1661.38,481.13 1662.32,480.03 1663.26,478.93 1664.2,477.81 1665.14,476.68 1666.07,475.54 1667.01,474.39 1667.95,473.23 1668.89,472.05 1669.83,470.87 1670.77,469.66 1671.71,468.45 1672.64,467.22 1673.58,465.98 1674.52,464.73 1675.46,463.46 1676.4,462.18 1677.34,460.89 1678.27,459.58 1679.21,458.25 1680.15,456.91 1681.09,455.56 1682.03,454.19 1682.97,452.8 1683.91,451.4 1684.84,449.98 1685.78,448.55 1686.72,447.09 1687.66,445.63 1688.6,444.14 1689.54,442.64 1690.47,441.12 1691.41,439.57 1692.35,438.02 1693.29,436.44 1694.23,434.84 1695.17,433.22 1696.11,431.59 1697.04,429.93 1697.98,428.25 1698.92,426.55 1699.86,424.83 1700.8,423.09 1701.74,421.32 1702.68,419.53 1703.61,417.72 1704.55,415.88 1705.49,414.02 1706.43,412.14 1707.37,410.22 1708.31,408.29 1709.24,406.32 1710.18,404.33 1711.12,402.32 1712.06,400.27 1713,398.2 1713.94,396.09 1714.88,393.96 1715.81,391.79 1716.75,389.6 1717.69,387.37 1718.63,385.11 1719.57,382.82 1720.51,380.49 1721.44,378.13 1722.38,375.73 1723.32,373.29 1724.26,370.82 1725.2,368.31 1726.14,365.76 1727.08,363.18 1728.01,360.55 1728.95,357.87 1729.89,355.16 1730.83,352.4 1731.77,349.6 1732.71,346.75 1733.65,343.85 1734.58,340.91 1735.52,337.91 1736.46,334.87 1737.4,331.77 1738.34,328.62 1739.28,325.41 1740.21,322.15 1741.15,318.83 1742.09,315.45 1743.03,312.01 1743.97,308.51 1744.91,304.94 1745.85,301.3 1746.78,297.6 1747.72,293.83 1748.66,289.98 1749.6,286.07 1750.54,282.07 1751.48,278 1752.41,273.84 1753.35,269.6 1754.29,265.28 1755.23,260.87 1756.17,256.36 1757.11,251.76 1758.05,247.07 1758.98,242.27 1759.92,237.37 1760.86,232.37 1761.8,227.25 1762.74,222.02 1763.68,216.67 1764.62,211.2 1765.55,205.61 1766.49,199.88 1767.43,194.02 1768.37,188.01 1769.31,181.86 1770.25,175.57 1771.18,169.11 1772.12,162.49 1773.06,155.71 1774,148.75 1774,667.43 1773.06,667.41 1772.12,667.4 1771.18,667.38 1770.25,667.36 1769.31,667.34 1768.37,667.32 1767.43,667.3 1766.49,667.28 1765.55,667.26 1764.62,667.24 1763.68,667.22 1762.74,667.2 1761.8,667.18 1760.86,667.16 1759.92,667.14 1758.98,667.12 1758.05,667.1 1757.11,667.08 1756.17,667.06 1755.23,667.04 1754.29,667.02 1753.35,667 1752.41,666.98 1751.48,666.96 1750.54,666.94 1749.6,666.92 1748.66,666.9 1747.72,666.88 1746.78,666.86 1745.85,666.84 1744.91,666.82 1743.97,666.8 1743.03,666.78 1742.09,666.75 1741.15,666.73 1740.21,666.71 1739.28,666.69 1738.34,666.67 1737.4,666.65 1736.46,666.63 1735.52,666.61 1734.58,666.59 1733.65,666.57 1732.71,666.55 1731.77,666.53 1730.83,666.51 1729.89,666.49 1728.95,666.47 1728.01,666.44 1727.08,666.42 1726.14,666.4 1725.2,666.38 1724.26,666.36 1723.32,666.34 1722.38,666.32 1721.44,666.3 1720.51,666.28 1719.57,666.26 1718.63,666.23 1717.69,666.21 1716.75,666.19 1715.81,666.17 1714.88,666.15 1713.94,666.13 1713,666.11 1712.06,666.09 1711.12,666.06 1710.18,666.04 1709.24,666.02 1708.31,666 1707.37,665.98 1706.43,665.96 1705.49,665.93 1704.55,665.91 1703.61,665.89 1702.68,665.87 1701.74,665.85 1700.8,665.83 1699.86,665.8 1698.92,665.78 1697.98,665.76 1697.04,665.74 1696.11,665.72 1695.17,665.69 1694.23,665.67 1693.29,665.65 1692.35,665.63 1691.41,665.61 1690.47,665.58 1689.54,665.56 1688.6,665.54 1687.66,665.52 1686.72,665.5 1685.78,665.47 1684.84,665.45 1683.91,665.43 1682.97,665.41 1682.03,665.38 1681.09,665.36 1680.15,665.34 1679.21,665.32 1678.27,665.29 1677.34,665.27 1676.4,665.25 1675.46,665.23 1674.52,665.2 1673.58,665.18 1672.64,665.16 1671.71,665.14 1670.77,665.11 1669.83,665.09 1668.89,665.07 1667.95,665.04 1667.01,665.02 1666.07,665 1665.14,664.98 1664.2,664.95 1663.26,664.93 1662.32,664.91 1661.38,664.88 1660.44,664.86 1659.51,664.84 1658.57,664.81 1657.63,664.79 1656.69,664.77 1655.75,664.74 1654.81,664.72 1653.87,664.7 1652.94,664.67 1652,664.65 1651.06,664.63 1650.12,664.6 1649.18,664.58 1648.24,664.56 1647.3,664.53 1646.37,664.51 1645.43,664.49 1644.49,664.46 1643.55,664.44 1642.61,664.41 1641.67,664.39 1640.74,664.37 1639.8,664.34 1638.86,664.32 1637.92,664.29 1636.98,664.27 1636.04,664.25 1635.1,664.22 1634.17,664.2 1633.23,664.17 1632.29,664.15 1631.35,664.13 1630.41,664.1 1629.47,664.08 1628.54,664.05 1627.6,664.03 1626.66,664 1625.72,663.98 1624.78,663.95 1623.84,663.93 1622.9,663.91 1621.97,663.88 1621.03,663.86 1620.09,663.83 1619.15,663.81 1618.21,663.78 1617.27,663.76 1616.33,663.73 1615.4,663.71 1614.46,663.68 1613.52,663.66 1612.58,663.63 1611.64,663.61 1610.7,663.58 1609.77,663.56 1608.83,663.53 1607.89,663.51 1606.95,663.48 1606.01,663.46 1605.07,663.43 1604.13,663.41 1603.2,663.38 1602.26,663.35 1601.32,663.33 1600.38,663.3 1599.44,663.28 1598.5,663.25 1597.57,663.23 1596.63,663.2 1595.69,663.18 1594.75,663.15 1593.81,663.12 1592.87,663.1 1591.93,663.07 1591,663.05 1590.06,663.02 1589.12,662.99 1588.18,662.97 1587.24,662.94 1586.3,662.92 1585.36,662.89 1584.43,662.86 1583.49,662.84 1582.55,662.81 1581.61,662.79 1580.67,662.76 1579.73,662.73 1578.8,662.71 1577.86,662.68 1576.92,662.65 1575.98,662.63 1575.04,662.6 1574.1,662.57 1573.16,662.55 1572.23,662.52 1571.29,662.49 1570.35,662.47 1569.41,662.44 1568.47,662.41 1567.53,662.39 1566.6,662.36 1565.66,662.33 1564.72,662.3 1563.78,662.28 1562.84,662.25 1561.9,662.22 1560.96,662.2 1560.03,662.17 1559.09,662.14 1558.15,662.11 1557.21,662.09 1556.27,662.06 1555.33,662.03 1554.39,662 1553.46,661.98 1552.52,661.95 1551.58,661.92 1550.64,661.89 1549.7,661.87 1548.76,661.84 1547.83,661.81 1546.89,661.78 1545.95,661.75 1545.01,661.73 1544.07,661.7 1543.13,661.67 1542.19,661.64 1541.26,661.61 1540.32,661.58 1539.38,661.56 1538.44,661.53 1537.5,661.5 1536.56,661.47 1535.63,661.44 1534.69,661.41 1533.75,661.39 1532.81,661.36 1531.87,661.33 1530.93,661.3 1529.99,661.27 1529.06,661.24 1528.12,661.21 1527.18,661.18 1526.24,661.16 1525.3,661.13 1524.36,661.1 1523.42,661.07 1522.49,661.04 1521.55,661.01 1520.61,660.98 1519.67,660.95 1518.73,660.92 1517.79,660.89 1516.86,660.86 1515.92,660.83 1514.98,660.8 1514.04,660.78 1513.1,660.75 1512.16,660.72 1511.22,660.69 1510.29,660.66 1509.35,660.63 1508.41,660.6 1507.47,660.57 1506.53,660.54 1505.59,660.51 1504.66,660.48 1503.72,660.45 1502.78,660.42 1501.84,660.39 1500.9,660.36 1499.96,660.33 1499.02,660.3 1498.09,660.26 1497.15,660.23 1496.21,660.2 1495.27,660.17 1494.33,660.14 1493.39,660.11 1492.45,660.08 1491.52,660.05 1490.58,660.02 1489.64,659.99 1488.7,659.96 1487.76,659.93 1486.82,659.9 1485.89,659.86 1484.95,659.83 1484.01,659.8 1483.07,659.77 1482.13,659.74 1481.19,659.71 1480.25,659.68 1479.32,659.65 1478.38,659.61 1477.44,659.58 1476.5,659.55 1475.56,659.52 1474.62,659.49 1473.69,659.46 1472.75,659.42 1471.81,659.39 1470.87,659.36 1469.93,659.33 1468.99,659.3 1468.05,659.26 1467.12,659.23 1466.18,659.2 1465.24,659.17 1464.3,659.13 1463.36,659.1 1462.42,659.07 1461.48,659.04 1460.55,659 1459.61,658.97 1458.67,658.94 1457.73,658.91 1456.79,658.87 1455.85,658.84 1454.92,658.81 1453.98,658.77 1453.04,658.74 1452.1,658.71 1451.16,658.67 1450.22,658.64 1449.28,658.61 1448.35,658.58 1447.41,658.54 1446.47,658.51 1445.53,658.47 1444.59,658.44 1443.65,658.41 1442.72,658.37 1441.78,658.34 1440.84,658.31 1439.9,658.27 1438.96,658.24 1438.02,658.2 1437.08,658.17 1436.15,658.14 1435.21,658.1 1434.27,658.07 1433.33,658.03 1432.39,658 1431.45,657.96 1430.52,657.93 1429.58,657.9 1428.64,657.86 1427.7,657.83 1426.76,657.79 1425.82,657.76 1424.88,657.72 1423.95,657.69 1423.01,657.65 1422.07,657.62 1421.13,657.58 1420.19,657.55 1419.25,657.51 1418.31,657.48 1417.38,657.44 1416.44,657.4 1415.5,657.37 1414.56,657.33 1413.62,657.3 1412.68,657.26 1411.75,657.23 1410.81,657.19 1409.87,657.15 1408.93,657.12 1407.99,657.08 1407.05,657.05 1406.11,657.01 1405.18,656.97 1404.24,656.94 1403.3,656.9 1402.36,656.87 1401.42,656.83 1400.48,656.79 1399.55,656.76 1398.61,656.72 1397.67,656.68 1396.73,656.65 1395.79,656.61 1394.85,656.57 1393.91,656.53 1392.98,656.5 1392.04,656.46 1391.1,656.42 1390.16,656.39 1389.22,656.35 1388.28,656.31 1387.34,656.27 1386.41,656.24 1385.47,656.2 1384.53,656.16 1383.59,656.12 1382.65,656.08 1381.71,656.05 1380.78,656.01 1379.84,655.97 1378.9,655.93 1377.96,655.89 1377.02,655.85 1376.08,655.82 1375.14,655.78 1374.21,655.74 1373.27,655.7 1372.33,655.66 1371.39,655.62 1370.45,655.58 1369.51,655.55 1368.58,655.51 1367.64,655.47 1366.7,655.43 1365.76,655.39 1364.82,655.35 1363.88,655.31 1362.94,655.27 1362.01,655.23 1361.07,655.19 1360.13,655.15 1359.19,655.11 1358.25,655.07 1357.31,655.03 1356.37,654.99 1355.44,654.95 1354.5,654.91 1353.56,654.87 1352.62,654.83 1351.68,654.79 1350.74,654.75 1349.81,654.71 1348.87,654.67 1347.93,654.63 1346.99,654.59 1346.05,654.55 1345.11,654.51 1344.17,654.47 1343.24,654.42 1342.3,654.38 1341.36,654.34 1340.42,654.3 1339.48,654.26 1338.54,654.22 1337.61,654.18 1336.67,654.13 1335.73,654.09 1334.79,654.05 1333.85,654.01 1332.91,653.97 1331.97,653.93 1331.04,653.88 1330.1,653.84 1329.16,653.8 1328.22,653.76 1327.28,653.71 1326.34,653.67 1325.4,653.63 1324.47,653.59 1323.53,653.54 1322.59,653.5 1321.65,653.46 1320.71,653.41 1319.77,653.37 1318.84,653.33 1317.9,653.28 1316.96,653.24 1316.02,653.2 1315.08,653.15 1314.14,653.11 1313.2,653.07 1312.27,653.02 1311.33,652.98 1310.39,652.93 1309.45,652.89 1308.51,652.84 1307.57,652.8 1306.64,652.76 1305.7,652.71 1304.76,652.67 1303.82,652.62 1302.88,652.58 1301.94,652.53 1301,652.49 1300.07,652.44 1299.13,652.4 1298.19,652.35 1297.25,652.31 1296.31,652.26 1295.37,652.22 1294.43,652.17 1293.5,652.12 1292.56,652.08 1291.62,652.03 1290.68,651.99 1289.74,651.94 1288.8,651.89 1287.87,651.85 1286.93,651.8 1285.99,651.75 1285.05,651.71 1284.11,651.66 1283.17,651.61 1282.23,651.57 1281.3,651.52 1280.36,651.47 1279.42,651.43 1278.48,651.38 1277.54,651.33 1276.6,651.28 1275.67,651.24 1274.73,651.19 1273.79,651.14 1272.85,651.09 1271.91,651.05 1270.97,651 1270.03,650.95 1269.1,650.9 1268.16,650.85 1267.22,650.8 1266.28,650.76 1265.34,650.71 1264.4,650.66 1263.46,650.61 1262.53,650.56 1261.59,650.51 1260.65,650.46 1259.71,650.41 1258.77,650.36 1257.83,650.31 1256.9,650.26 1255.96,650.21 1255.02,650.16 1254.08,650.11 1253.14,650.06 1252.2,650.01 1251.26,649.96 1250.33,649.91 1249.39,649.86 1248.45,649.81 1247.51,649.76 1246.57,649.71 1245.63,649.66 1244.7,649.61 1243.76,649.56 1242.82,649.5 1241.88,649.45 1240.94,649.4 1240,649.35 1239.06,649.3 1238.13,649.25 1237.19,649.19 1236.25,649.14 1235.31,649.09 1234.37,649.04 1233.43,648.99 1232.49,648.93 1231.56,648.88 1230.62,648.83 1229.68,648.77 1228.74,648.72 1227.8,648.67 1226.86,648.61 1225.93,648.56 1224.99,648.51 1224.05,648.45 1223.11,648.4 1222.17,648.35 1221.23,648.29 1220.29,648.24 1219.36,648.18 1218.42,648.13 1217.48,648.07 1216.54,648.02 1215.6,647.97 1214.66,647.91 1213.73,647.86 1212.79,647.8 1211.85,647.75 1210.91,647.69 1209.97,647.63 1209.03,647.58 1208.09,647.52 1207.16,647.47 1206.22,647.41 1205.28,647.35 1204.34,647.3 1203.4,647.24 1202.46,647.19 1201.53,647.13 1200.59,647.07 1199.65,647.02 1198.71,646.96 1197.77,646.9 1196.83,646.84 1195.89,646.79 1194.96,646.73 1194.02,646.67 1193.08,646.61 1192.14,646.55 1191.2,646.5 1190.26,646.44 1189.32,646.38 1188.39,646.32 1187.45,646.26 1186.51,646.2 1185.57,646.14 1184.63,646.09 1183.69,646.03 1182.76,645.97 1181.82,645.91 1180.88,645.85 1179.94,645.79 1179,645.73 1178.06,645.67 1177.12,645.61 1176.19,645.55 1175.25,645.49 1174.31,645.43 1173.37,645.37 1172.43,645.3 1171.49,645.24 1170.56,645.18 1169.62,645.12 1168.68,645.06 1167.74,645 1166.8,644.94 1165.86,644.87 1164.92,644.81 1163.99,644.75 1163.05,644.69 1162.11,644.62 1161.17,644.56 1160.23,644.5 1159.29,644.44 1158.35,644.37 1157.42,644.31 1156.48,644.25 1155.54,644.18 1154.6,644.12 1153.66,644.05 1152.72,643.99 1151.79,643.93 1150.85,643.86 1149.91,643.8 1148.97,643.73 1148.03,643.67 1147.09,643.6 1146.15,643.54 1145.22,643.47 1144.28,643.41 1143.34,643.34 1142.4,643.27 1141.46,643.21 1140.52,643.14 1139.59,643.07 1138.65,643.01 1137.71,642.94 1136.77,642.87 1135.83,642.81 1134.89,642.74 1133.95,642.67 1133.02,642.61 1132.08,642.54 1131.14,642.47 1130.2,642.4 1129.26,642.33 1128.32,642.26 1127.38,642.2 1126.45,642.13 1125.51,642.06 1124.57,641.99 1123.63,641.92 1122.69,641.85 1121.75,641.78 1120.82,641.71 1119.88,641.64 1118.94,641.57 1118,641.5" fill="#cbb2cc"/>
<polyline points="1118,641.5 1118.94,641.43 1119.88,641.36 1120.82,641.29 1121.75,641.22 1122.69,641.15 1123.63,641.07 1124.57,641 1125.51,640.93 1126.45,640.86 1127.38,640.79 1128.32,640.71 1129.26,640.64 1130.2,640.57 1131.14,640.49 1132.08,640.42 1133.02,640.35 1133.95,640.27 1134.89,640.2 1135.83,640.13 1136.77,640.05 1137.71,639.98 1138.65,639.9 1139.59,639.83 1140.52,639.75 1141.46,639.68 1142.4,639.6 1143.34,639.53 1144.28,639.45 1145.22,639.38 1146.15,639.3 1147.09,639.22 1148.03,639.15 1148.97,639.07 1149.91,638.99 1150.85,638.92 1151.79,638.84 1152.72,638.76 1153.66,638.68 1154.6,638.61 1155.54,638.53 1156.48,638.45 1157.42,638.37 1158.35,638.29 1159.29,638.21 1160.23,638.13 1161.17,638.05 1162.11,637.97 1163.05,637.89 1163.99,637.81 1164.92,637.73 1165.86,637.65 1166.8,637.57 1167.74,637.49 1168.68,637.41 1169.62,637.33 1170.56,637.25 1171.49,637.16 1172.43,637.08 1173.37,637 1174.31,636.92 1175.25,636.83 1176.19,636.75 1177.12,636.67 1178.06,636.58 1179,636.5 1179.94,636.42 1180.88,636.33 1181.82,636.25 1182.76,636.16 1183.69,636.08 1184.63,635.99 1185.57,635.91 1186.51,635.82 1187.45,635.73 1188.39,635.65 1189.32,635.56 1190.26,635.47 1191.2,635.39 1192.14,635.3 1193.08,635.21 1194.02,635.13 1194.96,635.04 1195.89,634.95 1196.83,634.86 1197.77,634.77 1198.71,634.68 1199.65,634.59 1200.59,634.5 1201.53,634.41 1202.46,634.32 1203.4,634.23 1204.34,634.14 1205.28,634.05 1206.22,633.96 1207.16,633.87 1208.09,633.78 1209.03,633.69 1209.97,633.59 1210.91,633.5 1211.85,633.41 1212.79,633.32 1213.73,633.22 1214.66,633.13 1215.6,633.04 1216.54,632.94 1217.48,632.85 1218.42,632.75 1219.36,632.66 1220.29,632.56 1221.23,632.47 1222.17,632.37 1223.11,632.27 1224.05,632.18 1224.99,632.08 1225.93,631.98 1226.86,631.89 1227.8,631.79 1228.74,631.69 1229.68,631.59 1230.62,631.49 1231.56,631.4 1232.49,631.3 1233.43,631.2 1234.37,631.1 1235.31,631 1236.25,630.9 1237.19,630.8 1238.13,630.7 1239.06,630.6 1240,630.49 1240.94,630.39 1241.88,630.29 1242.82,630.19 1243.76,630.08 1244.7,629.98 1245.63,629.88 1246.57,629.77 1247.51,629.67 1248.45,629.57 1249.39,629.46 1250.33,629.36 1251.26,629.25 1252.2,629.14 1253.14,629.04 1254.08,628.93 1255.02,628.83 1255.96,628.72 1256.9,628.61 1257.83,628.5 1258.77,628.39 1259.71,628.29 1260.65,628.18 1261.59,628.07 1262.53,627.96 1263.46,627.85 1264.4,627.74 1265.34,627.63 1266.28,627.52 1267.22,627.41 1268.16,627.29 1269.1,627.18 1270.03,627.07 1270.97,626.96 1271.91,626.84 1272.85,626.73 1273.79,626.62 1274.73,626.5 1275.67,626.39 1276.6,626.27 1277.54,626.16 1278.48,626.04 1279.42,625.93 1280.36,625.81 1281.3,625.69 1282.23,625.58 1283.17,625.46 1284.11,625.34 1285.05,625.22 1285.99,625.1 1286.93,624.98 1287.87,624.86 1288.8,624.74 1289.74,624.62 1290.68,624.5 1291.62,624.38 1292.56,624.26 1293.5,624.14 1294.43,624.01 1295.37,623.89 1296.31,623.77 1297.25,623.64 1298.19,623.52 1299.13,623.4 1300.07,623.27 1301,623.15 1301.94,623.02 1302.88,622.89 1303.82,622.77 1304.76,622.64 1305.7,622.51 1306.64,622.38 1307.57,622.25 1308.51,622.13 1309.45,622 1310.39,621.87 1311.33,621.74 1312.27,621.61 1313.2,621.47 1314.14,621.34 1315.08,621.21 1316.02,621.08 1316.96,620.94 1317.9,620.81 1318.84,620.68 1319.77,620.54 1320.71,620.41 1321.65,620.27 1322.59,620.14 1323.53,620 1324.47,619.86 1325.4,619.72 1326.34,619.59 1327.28,619.45 1328.22,619.31 1329.16,619.17 1330.1,619.03 1331.04,618.89 1331.97,618.75 1332.91,618.61 1333.85,618.46 1334.79,618.32 1335.73,618.18 1336.67,618.04 1337.61,617.89 1338.54,617.75 1339.48,617.6 1340.42,617.46 1341.36,617.31 1342.3,617.16 1343.24,617.02 1344.17,616.87 1345.11,616.72 1346.05,616.57 1346.99,616.42 1347.93,616.27 1348.87,616.12 1349.81,615.97 1350.74,615.82 1351.68,615.66 1352.62,615.51 1353.56,615.36 1354.5,615.2 1355.44,615.05 1356.37,614.89 1357.31,614.74 1358.25,614.58 1359.19,614.42 1360.13,614.27 1361.07,614.11 1362.01,613.95 1362.94,613.79 1363.88,613.63 1364.82,613.47 1365.76,613.31 1366.7,613.14 1367.64,612.98 1368.58,612.82 1369.51,612.65 1370.45,612.49 1371.39,612.32 1372.33,612.16 1373.27,611.99 1374.21,611.82 1375.14,611.66 1376.08,611.49 1377.02,611.32 1377.96,611.15 1378.9,610.98 1379.84,610.81 1380.78,610.63 1381.71,610.46 1382.65,610.29 1383.59,610.11 1384.53,609.94 1385.47,609.76 1386.41,609.59 1387.34,609.41 1388.28,609.23 1389.22,609.05 1390.16,608.88 1391.1,608.7 1392.04,608.51 1392.98,608.33 1393.91,608.15 1394.85,607.97 1395.79,607.78 1396.73,607.6 1397.67,607.41 1398.61,607.23 1399.55,607.04 1400.48,606.85 1401.42,606.67 1402.36,606.48 1403.3,606.29 1404.24,606.1 1405.18,605.9 1406.11,605.71 1407.05,605.52 1407.99,605.33 1408.93,605.13 1409.87,604.93 1410.81,604.74 1411.75,604.54 1412.68,604.34 1413.62,604.14 1414.56,603.94 1415.5,603.74 1416.44,603.54 1417.38,603.34 1418.31,603.14 1419.25,602.93 1420.19,602.73 1421.13,602.52 1422.07,602.31 1423.01,602.1 1423.95,601.9 1424.88,601.69 1425.82,601.47 1426.76,601.26 1427.7,601.05 1428.64,600.84 1429.58,600.62 1430.52,600.41 1431.45,600.19 1432.39,599.97 1433.33,599.75 1434.27,599.53 1435.21,599.31 1436.15,599.09 1437.08,598.87 1438.02,598.65 1438.96,598.42 1439.9,598.2 1440.84,597.97 1441.78,597.74 1442.72,597.51 1443.65,597.28 1444.59,597.05 1445.53,596.82 1446.47,596.59 1447.41,596.35 1448.35,596.12 1449.28,595.88 1450.22,595.64 1451.16,595.41 1452.1,595.17 1453.04,594.93 1453.98,594.68 1454.92,594.44 1455.85,594.2 1456.79,593.95 1457.73,593.7 1458.67,593.46 1459.61,593.21 1460.55,592.96 1461.48,592.7 1462.42,592.45 1463.36,592.2 1464.3,591.94 1465.24,591.69 1466.18,591.43 1467.12,591.17 1468.05,590.91 1468.99,590.65 1469.93,590.38 1470.87,590.12 1471.81,589.86 1472.75,589.59 1473.69,589.32 1474.62,589.05 1475.56,588.78 1476.5,588.51 1477.44,588.23 1478.38,587.96 1479.32,587.68 1480.25,587.4 1481.19,587.12 1482.13,586.84 1483.07,586.56 1484.01,586.28 1484.95,585.99 1485.89,585.71 1486.82,585.42 1487.76,585.13 1488.7,584.84 1489.64,584.54 1490.58,584.25 1491.52,583.95 1492.45,583.66 1493.39,583.36 1494.33,583.06 1495.27,582.76 1496.21,582.45 1497.15,582.15 1498.09,581.84 1499.02,581.53 1499.96,581.22 1500.9,580.91 1501.84,580.59 1502.78,580.28 1503.72,579.96 1504.66,579.64 1505.59,579.32 1506.53,579 1507.47,578.68 1508.41,578.35 1509.35,578.02 1510.29,577.69 1511.22,577.36 1512.16,577.03 1513.1,576.69 1514.04,576.36 1514.98,576.02 1515.92,575.68 1516.86,575.33 1517.79,574.99 1518.73,574.64 1519.67,574.29 1520.61,573.94 1521.55,573.59 1522.49,573.23 1523.42,572.88 1524.36,572.52 1525.3,572.16 1526.24,571.79 1527.18,571.43 1528.12,571.06 1529.06,570.69 1529.99,570.32 1530.93,569.95 1531.87,569.57 1532.81,569.19 1533.75,568.81 1534.69,568.43 1535.63,568.04 1536.56,567.65 1537.5,567.26 1538.44,566.87 1539.38,566.48 1540.32,566.08 1541.26,565.68 1542.19,565.28 1543.13,564.87 1544.07,564.47 1545.01,564.06 1545.95,563.64 1546.89,563.23 1547.83,562.81 1548.76,562.39 1549.7,561.97 1550.64,561.54 1551.58,561.11 1552.52,560.68 1553.46,560.25 1554.39,559.81 1555.33,559.38 1556.27,558.93 1557.21,558.49 1558.15,558.04 1559.09,557.59 1560.03,557.14 1560.96,556.68 1561.9,556.22 1562.84,555.76 1563.78,555.29 1564.72,554.82 1565.66,554.35 1566.6,553.88 1567.53,553.4 1568.47,552.92 1569.41,552.43 1570.35,551.94 1571.29,551.45 1572.23,550.96 1573.16,550.46 1574.1,549.96 1575.04,549.45 1575.98,548.94 1576.92,548.43 1577.86,547.92 1578.8,547.4 1579.73,546.87 1580.67,546.35 1581.61,545.82 1582.55,545.28 1583.49,544.74 1584.43,544.2 1585.36,543.66 1586.3,543.11 1587.24,542.55 1588.18,542 1589.12,541.44 1590.06,540.87 1591,540.3 1591.93,539.73 1592.87,539.15 1593.81,538.56 1594.75,537.98 1595.69,537.39 1596.63,536.79 1597.57,536.19 1598.5,535.59 1599.44,534.98 1600.38,534.36 1601.32,533.74 1602.26,533.12 1603.2,532.49 1604.13,531.86 1605.07,531.22 1606.01,530.58 1606.95,529.93 1607.89,529.28 1608.83,528.62 1609.77,527.96 1610.7,527.29 1611.64,526.61 1612.58,525.93 1613.52,525.25 1614.46,524.56 1615.4,523.86 1616.33,523.16 1617.27,522.45 1618.21,521.74 1619.15,521.02 1620.09,520.29 1621.03,519.56 1621.97,518.83 1622.9,518.08 1623.84,517.33 1624.78,516.58 1625.72,515.82 1626.66,515.05 1627.6,514.27 1628.54,513.49 1629.47,512.7 1630.41,511.9 1631.35,511.1 1632.29,510.29 1633.23,509.47 1634.17,508.65 1635.1,507.82 1636.04,506.98 1636.98,506.13 1637.92,505.28 1638.86,504.42 1639.8,503.55 1640.74,502.67 1641.67,501.79 1642.61,500.89 1643.55,499.99 1644.49,499.08 1645.43,498.16 1646.37,497.24 1647.3,496.3 1648.24,495.36 1649.18,494.4 1650.12,493.44 1651.06,492.47 1652,491.49 1652.94,490.5 1653.87,489.5 1654.81,488.49 1655.75,487.47 1656.69,486.44 1657.63,485.39 1658.57,484.34 1659.51,483.28 1660.44,482.21 1661.38,481.13 1662.32,480.03 1663.26,478.93 1664.2,477.81 1665.14,476.68 1666.07,475.54 1667.01,474.39 1667.95,473.23 1668.89,472.05 1669.83,470.87 1670.77,469.66 1671.71,468.45 1672.64,467.22 1673.58,465.98 1674.52,464.73 1675.46,463.46 1676.4,462.18 1677.34,460.89 1678.27,459.58 1679.21,458.25 1680.15,456.91 1681.09,455.56 1682.03,454.19 1682.97,452.8 1683.91,451.4 1684.84,449.98 1685.78,448.55 1686.72,447.09 1687.66,445.63 1688.6,444.14 1689.54,442.64 1690.47,441.12 1691.41,439.57 1692.35,438.02 1693.29,436.44 1694.23,434.84 1695.17,433.22 1696.11,431.59 1697.04,429.93 1697.98,428.25 1698.92,426.55 1699.86,424.83 1700.8,423.09 1701.74,421.32 1702.68,419.53 1703.61,417.72 1704.55,415.88 1705.49,414.02 1706.43,412.14 1707.37,410.22 1708.31,408.29 1709.24,406.32 1710.18,404.33 1711.12,402.32 1712.06,400.27 1713,398.2 1713.94,396.09 1714.88,393.96 1715.81,391.79 1716.75,389.6 1717.69,387.37 1718.63,385.11 1719.57,382.82 1720.51,380.49 1721.44,378.13 1722.38,375.73 1723.32,373.29 1724.26,370.82 1725.2,368.31 1726.14,365.76 1727.08,363.18 1728.01,360.55 1728.95,357.87 1729.89,355.16 1730.83,352.4 1731.77,349.6 1732.71,346.75 1733.65,343.85 1734.58,340.91 1735.52,337.91 1736.46,334.87 1737.4,331.77 1738.34,328.62 1739.28,325.41 1740.21,322.15 1741.15,318.83 1742.09,315.45 1743.03,312.01 1743.97,308.51 1744.91,304.94 1745.85,301.3 1746.78,297.6 1747.72,293.83 1748.66,289.98 1749.6,286.07 1750.54,282.07 1751.48,278 1752.41,273.84 1753.35,269.6 1754.29,265.28 1755.23,260.87 1756.17,256.36 1757.11,251.76 1758.05,247.07 1758.98,242.27 1759.92,237.37 1760.86,232.37 1761.8,227.25 1762.74,222.02 1763.68,216.67 1764.62,211.2 1765.55,205.61 1766.49,199.88 1767.43,194.02 1768.37,188.01 1769.31,181.86 1770.25,175.57 1771.18,169.11 1772.12,162.49 1773.06,155.71 1774,148.75" stroke="#000" stroke-width="1.2"/>
<polyline points="1774,667.43 1773.06,667.41 1772.12,667.4 1771.18,667.38 1770.25,667.36 1769.31,667.34 1768.37,667.32 1767.43,667.3 1766.49,667.28 1765.55,667.26 1764.62,667.24 1763.68,667.22 1762.74,667.2 1761.8,667.18 1760.86,667.16 1759.92,667.14 1758.98,667.12 1758.05,667.1 1757.11,667.08 1756.17,667.06 1755.23,667.04 1754.29,667.02 1753.35,667 1752.41,666.98 1751.48,666.96 1750.54,666.94 1749.6,666.92 1748.66,666.9 1747.72,666.88 1746.78,666.86 1745.85,666.84 1744.91,666.82 1743.97,666.8 1743.03,666.78 1742.09,666.75 1741.15,666.73 1740.21,666.71 1739.28,666.69 1738.34,666.67 1737.4,666.65 1736.46,666.63 1735.52,666.61 1734.58,666.59 1733.65,666.57 1732.71,666.55 1731.77,666.53 1730.83,666.51 1729.89,666.49 1728.95,666.47 1728.01,666.44 1727.08,666.42 1726.14,666.4 1725.2,666.38 1724.26,666.36 1723.32,666.34 1722.38,666.32 1721.44,666.3 1720.51,666.28 1719.57,666.26 1718.63,666.23 1717.69,666.21 1716.75,666.19 1715.81,666.17 1714.88,666.15 1713.94,666.13 1713,666.11 1712.06,666.09 1711.12,666.06 1710.18,666.04 1709.24,666.02 1708.31,666 1707.37,665.98 1706.43,665.96 1705.49,665.93 1704.55,665.91 1703.61,665.89 1702.68,665.87 1701.74,665.85 1700.8,665.83 1699.86,665.8 1698.92,665.78 1697.98,665.76 1697.04,665.74 1696.11,665.72 1695.17,665.69 1694.23,665.67 1693.29,665.65 1692.35,665.63 1691.41,665.61 1690.47,665.58 1689.54,665.56 1688.6,665.54 1687.66,665.52 1686.72,665.5 1685.78,665.47 1684.84,665.45 1683.91,665.43 1682.97,665.41 1682.03,665.38 1681.09,665.36 1680.15,665.34 1679.21,665.32 1678.27,665.29 1677.34,665.27 1676.4,665.25 1675.46,665.23 1674.52,665.2 1673.58,665.18 1672.64,665.16 1671.71,665.14 1670.77,665.11 1669.83,665.09 1668.89,665.07 1667.95,665.04 1667.01,665.02 1666.07,665 1665.14,664.98 1664.2,664.95 1663.26,664.93 1662.32,664.91 1661.38,664.88 1660.44,664.86 1659.51,664.84 1658.57,664.81 1657.63,664.79 1656.69,664.77 1655.75,664.74 1654.81,664.72 1653.87,664.7 1652.94,664.67 1652,664.65 1651.06,664.63 1650.12,664.6 1649.18,664.58 1648.24,664.56 1647.3,664.53 1646.37,664.51 1645.43,664.49 1644.49,664.46 1643.55,664.44 1642.61,664.41 1641.67,664.39 1640.74,664.37 1639.8,664.34 1638.86,664.32 1637.92,664.29 1636.98,664.27 1636.04,664.25 1635.1,664.22 1634.17,664.2 1633.23,664.17 1632.29,664.15 1631.35,664.13 1630.41,664.1 1629.47,664.08 1628.54,664.05 1627.6,664.03 1626.66,664 1625.72,663.98 1624.78,663.95 1623.84,663.93 1622.9,663.91 1621.97,663.88 1621.03,663.86 1620.09,663.83 1619.15,663.81 1618.21,663.78 1617.27,663.76 1616.33,663.73 1615.4,663.71 1614.46,663.68 1613.52,663.66 1612.58,663.63 1611.64,663.61 1610.7,663.58 1609.77,663.56 1608.83,663.53 1607.89,663.51 1606.95,663.48 1606.01,663.46 1605.07,663.43 1604.13,663.41 1603.2,663.38 1602.26,663.35 1601.32,663.33 1600.38,663.3 1599.44,663.28 1598.5,663.25 1597.57,663.23 1596.63,663.2 1595.69,663.18 1594.75,663.15 1593.81,663.12 1592.87,663.1 1591.93,663.07 1591,663.05 1590.06,663.02 1589.12,662.99 1588.18,662.97 1587.24,662.94 1586.3,662.92 1585.36,662.89 1584.43,662.86 1583.49,662.84 1582.55,662.81 1581.61,662.79 1580.67,662.76 1579.73,662.73 1578.8,662.71 1577.86,662.68 1576.92,662.65 1575.98,662.63 1575.04,662.6 1574.1,662.57 1573.16,662.55 1572.23,662.52 1571.29,662.49 1570.35,662.47 1569.41,662.44 1568.47,662.41 1567.53,662.39 1566.6,662.36 1565.66,662.33 1564.72,662.3 1563.78,662.28 1562.84,662.25 1561.9,662.22 1560.96,662.2 1560.03,662.17 1559.09,662.14 1558.15,662.11 1557.21,662.09 1556.27,662.06 1555.33,662.03 1554.39,662 1553.46,661.98 1552.52,661.95 1551.58,661.92 1550.64,661.89 1549.7,661.87 1548.76,661.84 1547.83,661.81 1546.89,661.78 1545.95,661.75 1545.01,661.73 1544.07,661.7 1543.13,661.67 1542.19,661.64 1541.26,661.61 1540.32,661.58 1539.38,661.56 1538.44,661.53 1537.5,661.5 1536.56,661.47 1535.63,661.44 1534.69,661.41 1533.75,661.39 1532.81,661.36 1531.87,661.33 1530.93,661.3 1529.99,661.27 1529.06,661.24 1528.12,661.21 1527.18,661.18 1526.24,661.16 1525.3,661.13 1524.36,661.1 1523.42,661.07 1522.49,661.04 1521.55,661.01 1520.61,660.98 1519.67,660.95 1518.73,660.92 1517.79,660.89 1516.86,660.86 1515.92,660.83 1514.98,660.8 1514.04,660.78 1513.1,660.75 1512.16,660.72 1511.22,660.69 1510.29,660.66 1509.35,660.63 1508.41,660.6 1507.47,660.57 1506.53,660.54 1505.59,660.51 1504.66,660.48 1503.72,660.45 1502.78,660.42 1501.84,660.39 1500.9,660.36 1499.96,660.33 1499.02,660.3 1498.09,660.26 1497.15,660.23 1496.21,660.2 1495.27,660.17 1494.33,660.14 1493.39,660.11 1492.45,660.08 1491.52,660.05 1490.58,660.02 1489.64,659.99 1488.7,659.96 1487.76,659.93 1486.82,659.9 1485.89,659.86 1484.95,659.83 1484.01,659.8 1483.07,659.77 1482.13,659.74 1481.19,659.71 1480.25,659.68 1479.32,659.65 1478.38,659.61 1477.44,659.58 1476.5,659.55 1475.56,659.52 1474.62,659.49 1473.69,659.46 1472.75,659.42 1471.81,659.39 1470.87,659.36 1469.93,659.33 1468.99,659.3 1468.05,659.26 1467.12,659.23 1466.18,659.2 1465.24,659.17 1464.3,659.13 1463.36,659.1 1462.42,659.07 1461.48,659.04 1460.55,659 1459.61,658.97 1458.67,658.94 1457.73,658.91 1456.79,658.87 1455.85,658.84 1454.92,658.81 1453.98,658.77 1453.04,658.74 1452.1,658.71 1451.16,658.67 1450.22,658.64 1449.28,658.61 1448.35,658.58 1447.41,658.54 1446.47,658.51 1445.53,658.47 1444.59,658.44 1443.65,658.41 1442.72,658.37 1441.78,658.34 1440.84,658.31 1439.9,658.27 1438.96,658.24 1438.02,658.2 1437.08,658.17 1436.15,658.14 1435.21,658.1 1434.27,658.07 1433.33,658.03 1432.39,658 1431.45,657.96 1430.52,657.93 1429.58,657.9 1428.64,657.86 1427.7,657.83 1426.76,657.79 1425.82,657.76 1424.88,657.72 1423.95,657.69 1423.01,657.65 1422.07,657.62 1421.13,657.58 1420.19,657.55 1419.25,657.51 1418.31,657.48 1417.38,657.44 1416.44,657.4 1415.5,657.37 1414.56,657.33 1413.62,657.3 1412.68,657.26 1411.75,657.23 1410.81,657.19 1409.87,657.15 1408.93,657.12 1407.99,657.08 1407.05,657.05 1406.11,657.01 1405.18,656.97 1404.24,656.94 1403.3,656.9 1402.36,656.87 1401.42,656.83 1400.48,656.79 1399.55,656.76 1398.61,656.72 1397.67,656.68 1396.73,656.65 1395.79,656.61 1394.85,656.57 1393.91,656.53 1392.98,656.5 1392.04,656.46 1391.1,656.42 1390.16,656.39 1389.22,656.35 1388.28,656.31 1387.34,656.27 1386.41,656.24 1385.47,656.2 1384.53,656.16 1383.59,656.12 1382.65,656.08 1381.71,656.05 1380.78,656.01 1379.84,655.97 1378.9,655.93 1377.96,655.89 1377.02,655.85 1376.08,655.82 1375.14,655.78 1374.21,655.74 1373.27,655.7 1372.33,655.66 1371.39,655.62 1370.45,655.58 1369.51,655.55 1368.58,655.51 1367.64,655.47 1366.7,655.43 1365.76,655.39 1364.82,655.35 1363.88,655.31 1362.94,655.27 1362.01,655.23 1361.07,655.19 1360.13,655.15 1359.19,655.11 1358.25,655.07 1357.31,655.03 1356.37,654.99 1355.44,654.95 1354.5,654.91 1353.56,654.87 1352.62,654.83 1351.68,654.79 1350.74,654.75 1349.81,654.71 1348.87,654.67 1347.93,654.63 1346.99,654.59 1346.05,654.55 1345.11,654.51 1344.17,654.47 1343.24,654.42 1342.3,654.38 1341.36,654.34 1340.42,654.3 1339.48,654.26 1338.54,654.22 1337.61,654.18 1336.67,654.13 1335.73,654.09 1334.79,654.05 1333.85,654.01 1332.91,653.97 1331.97,653.93 1331.04,653.88 1330.1,653.84 1329.16,653.8 1328.22,653.76 1327.28,653.71 1326.34,653.67 1325.4,653.63 1324.47,653.59 1323.53,653.54 1322.59,653.5 1321.65,653.46 1320.71,653.41 1319.77,653.37 1318.84,653.33 1317.9,653.28 1316.96,653.24 1316.02,653.2 1315.08,653.15 1314.14,653.11 1313.2,653.07 1312.27,653.02 1311.33,652.98 1310.39,652.93 1309.45,652.89 1308.51,652.84 1307.57,652.8 1306.64,652.76 1305.7,652.71 1304.76,652.67 1303.82,652.62 1302.88,652.58 1301.94,652.53 1301,652.49 1300.07,652.44 1299.13,652.4 1298.19,652.35 1297.25,652.31 1296.31,652.26 1295.37,652.22 1294.43,652.17 1293.5,652.12 1292.56,652.08 1291.62,652.03 1290.68,651.99 1289.74,651.94 1288.8,651.89 1287.87,651.85 1286.93,651.8 1285.99,651.75 1285.05,651.71 1284.11,651.66 1283.17,651.61 1282.23,651.57 1281.3,651.52 1280.36,651.47 1279.42,651.43 1278.48,651.38 1277.54,651.33 1276.6,651.28 1275.67,651.24 1274.73,651.19 1273.79,651.14 1272.85,651.09 1271.91,651.05 1270.97,651 1270.03,650.95 1269.1,650.9 1268.16,650.85 1267.22,650.8 1266.28,650.76 1265.34,650.71 1264.4,650.66 1263.46,650.61 1262.53,650.56 1261.59,650.51 1260.65,650.46 1259.71,650.41 1258.77,650.36 1257.83,650.31 1256.9,650.26 1255.96,650.21 1255.02,650.16 1254.08,650.11 1253.14,650.06 1252.2,650.01 1251.26,649.96 1250.33,649.91 1249.39,649.86 1248.45,649.81 1247.51,649.76 1246.57,649.71 1245.63,649.66 1244.7,649.61 1243.76,649.56 1242.82,649.5 1241.88,649.45 1240.94,649.4 1240,649.35 1239.06,649.3 1238.13,649.25 1237.19,649.19 1236.25,649.14 1235.31,649.09 1234.37,649.04 1233.43,648.99 1232.49,648.93 1231.56,648.88 1230.62,648.83 1229.68,648.77 1228.74,648.72 1227.8,648.67 1226.86,648.61 1225.93,648.56 1224.99,648.51 1224.05,648.45 1223.11,648.4 1222.17,648.35 1221.23,648.29 1220.29,648.24 1219.36,648.18 1218.42,648.13 1217.48,648.07 1216.54,648.02 1215.6,647.97 1214.66,647.91 1213.73,647.86 1212.79,647.8 1211.85,647.75 1210.91,647.69 1209.97,647.63 1209.03,647.58 1208.09,647.52 1207.16,647.47 1206.22,647.41 1205.28,647.35 1204.34,647.3 1203.4,647.24 1202.46,647.19 1201.53,647.13 1200.59,647.07 1199.65,647.02 1198.71,646.96 1197.77,646.9 1196.83,646.84 1195.89,646.79 1194.96,646.73 1194.02,646.67 1193.08,646.61 1192.14,646.55 1191.2,646.5 1190.26,646.44 1189.32,646.38 1188.39,646.32 1187.45,646.26 1186.51,646.2 1185.57,646.14 1184.63,646.09 1183.69,646.03 1182.76,645.97 1181.82,645.91 1180.88,645.85 1179.94,645.79 1179,645.73 1178.06,645.67 1177.12,645.61 1176.19,645.55 1175.25,645.49 1174.31,645.43 1173.37,645.37 1172.43,645.3 1171.49,645.24 1170.56,645.18 1169.62,645.12 1168.68,645.06 1167.74,645 1166.8,644.94 1165.86,644.87 1164.92,644.81 1163.99,644.75 1163.05,644.69 1162.11,644.62 1161.17,644.56 1160.23,644.5 1159.29,644.44 1158.35,644.37 1157.42,644.31 1156.48,644.25 1155.54,644.18 1154.6,644.12 1153.66,644.05 1152.72,643.99 1151.79,643.93 1150.85,643.86 1149.91,643.8 1148.97,643.73 1148.03,643.67 1147.09,643.6 1146.15,643.54 1145.22,643.47 1144.28,643.41 1143.34,643.34 1142.4,643.27 1141.46,643.21 1140.52,643.14 1139.59,643.07 1138.65,643.01 1137.71,642.94 1136.77,642.87 1135.83,642.81 1134.89,642.74 1133.95,642.67 1133.02,642.61 1132.08,642.54 1131.14,642.47 1130.2,642.4 1129.26,642.33 1128.32,642.26 1127.38,642.2 1126.45,642.13 1125.51,642.06 1124.57,641.99 1123.63,641.92 1122.69,641.85 1121.75,641.78 1120.82,641.71 1119.88,641.64 1118.94,641.57 1118,641.5" stroke="#000" stroke-width="1.2"/>
</g>
<g font-size="20" fill="#262626" stroke="#262626" stroke-width="0.3">
<text transform="translate(1117.56 779.1) scale(1 1.04)" text-anchor="middle">0</text>
<text transform="translate(1190.9 779.1) scale(1 1.04)" text-anchor="middle">0.1</text>
<text transform="translate(1263.9 779.1) scale(1 1.04)" text-anchor="middle">0.2</text>
<text transform="translate(1336.9 779.1) scale(1 1.04)" text-anchor="middle">0.3</text>
<text transform="translate(1409.9 779.1) scale(1 1.04)" text-anchor="middle">0.4</text>
<text transform="translate(1481.9 779.1) scale(1 1.04)" text-anchor="middle">0.5</text>
<text transform="translate(1554.9 779.1) scale(1 1.04)" text-anchor="middle">0.6</text>
<text transform="translate(1627.9 779.1) scale(1 1.04)" text-anchor="middle">0.7</text>
<text transform="translate(1700.9 779.1) scale(1 1.04)" text-anchor="middle">0.8</text>
<text transform="translate(1773.9 779.1) scale(1 1.04)" text-anchor="middle">0.9</text>
<text transform="translate(1109.0 758.9) scale(1 1.04)" text-anchor="end">-2</text>
<text transform="translate(1109.0 649.9) scale(1 1.04)" text-anchor="end">0</text>
<text transform="translate(1109.0 539.9) scale(1 1.04)" text-anchor="end">2</text>
<text transform="translate(1109.0 430.9) scale(1 1.04)" text-anchor="end">4</text>
<text transform="translate(1109.0 320.9) scale(1 1.04)" text-anchor="end">6</text>
<text transform="translate(1109.0 210.9) scale(1 1.04)" text-anchor="end">8</text>
<text transform="translate(1109.0 101.9) scale(1 1.04)" text-anchor="end">10</text>
<text x="1446.0" y="806.5" font-size="22" text-anchor="middle">r</text>
</g>
<text transform="translate(1445.5 85.7) scale(1 1.04)" font-size="22" font-weight="bold" fill="#000" stroke="#000" stroke-width="0.3" text-anchor="middle">r=[0,0.9]</text>
</svg>
</body></html>
